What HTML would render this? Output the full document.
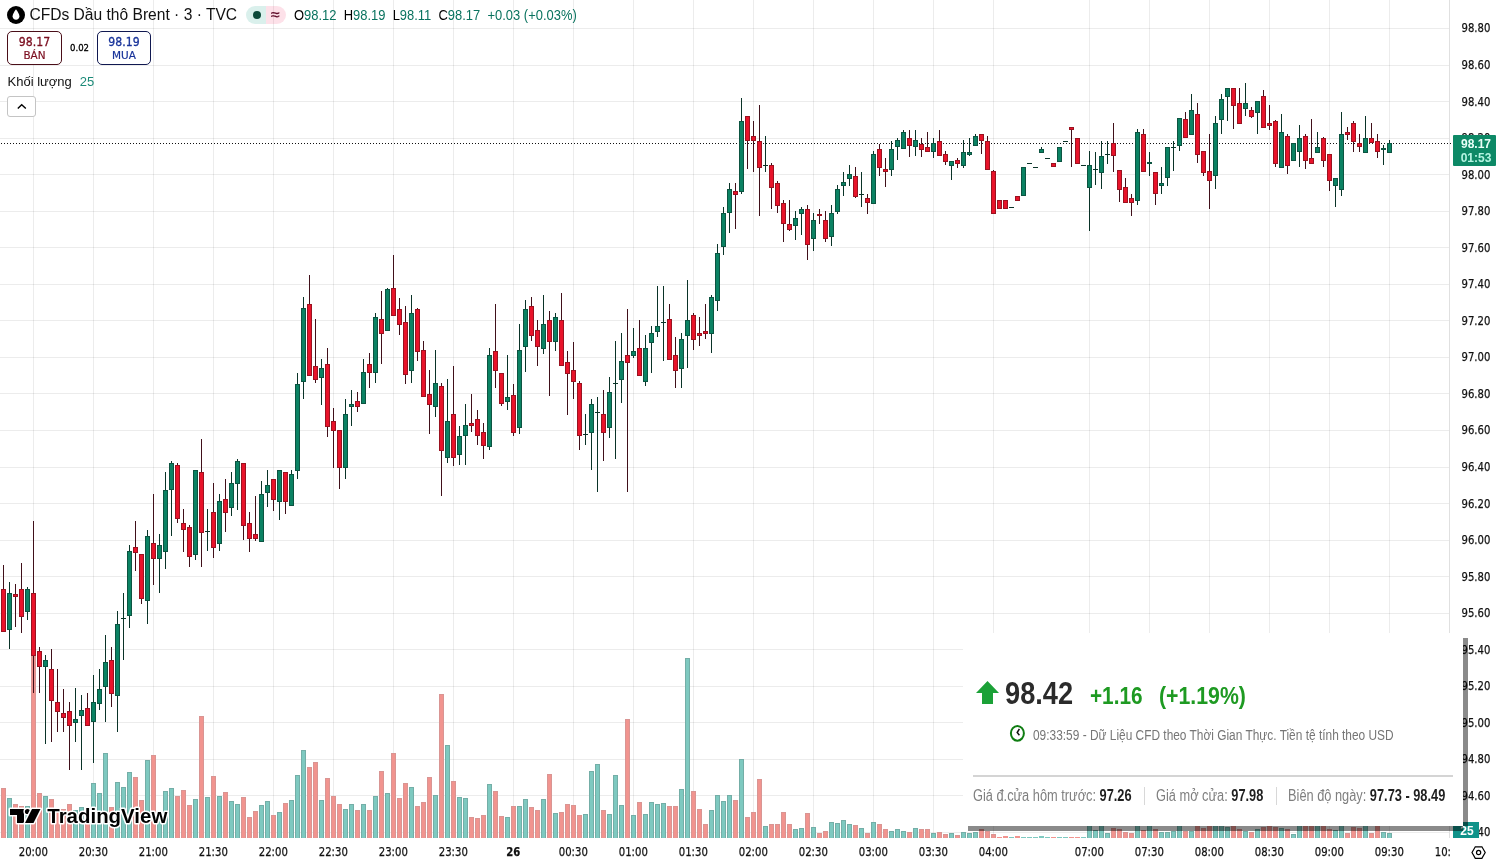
<!DOCTYPE html>
<html lang="vi"><head><meta charset="utf-8"><title>CFDs Dầu thô Brent</title>
<style>
html,body{margin:0;padding:0;width:1503px;height:866px;overflow:hidden;background:#fff;}
body{position:relative;font-family:"Liberation Sans",Arial,sans-serif;color:#131722;}
.a{position:absolute;white-space:nowrap;}
svg.chart{position:absolute;left:0;top:0;}
.pl{position:absolute;left:1440px;width:50.5px;text-align:right;font-size:12px;line-height:14px;height:14px;color:#111;font-family:"DejaVu Sans","Liberation Sans",sans-serif;}
.pl span{display:inline-block;transform:scaleX(0.84);transform-origin:100% 50%;-webkit-text-stroke:0.25px #111;}
.tl{position:absolute;top:845px;width:60px;text-align:center;font-size:12px;line-height:14px;color:#111;font-family:"DejaVu Sans","Liberation Sans",sans-serif;}
.tl span{display:inline-block;transform:scaleX(0.84);transform-origin:50% 50%;-webkit-text-stroke:0.25px #111;}
.tl.b{font-weight:bold;}
#tclip{position:absolute;left:0;top:0;width:1451px;height:866px;overflow:hidden;}
#title{left:29.4px;top:5px;font-size:15.6px;line-height:20px;color:#111;}
#pill{left:246px;top:6px;width:39.5px;height:18px;border-radius:9px;overflow:hidden;}
#pill .l{position:absolute;left:0;top:0;width:20px;height:18px;background:rgba(8,153,129,0.15);}
#pill .r{position:absolute;left:20px;top:0;width:20px;height:18px;background:rgba(242,54,110,0.15);}
#pill .dot{position:absolute;left:7px;top:5px;width:8px;height:8px;border-radius:50%;background:#0d4a3a;}
#pill .apx{position:absolute;left:21px;top:0;width:17px;height:18px;line-height:18px;text-align:center;color:#5e0b28;font-size:16px;font-weight:normal;-webkit-text-stroke:0.3px #5e0b28;}
#ohlc{left:294.3px;top:6.5px;font-size:14px;line-height:16px;color:#000;transform:scaleX(0.925);transform-origin:0 0;}
#ohlc .v{color:#0a735f;}
.box{position:absolute;top:31px;height:32px;border-radius:5px;background:#fff;text-align:center;}
.box .p{font-size:12px;line-height:13px;margin-top:3.8px;font-family:"DejaVu Sans","Liberation Sans",sans-serif;transform:scaleX(0.91);-webkit-text-stroke:0.3px currentColor;}
.box .s{font-size:11px;line-height:13px;margin-top:0.3px;font-family:"DejaVu Sans","Liberation Sans",sans-serif;transform:scaleX(0.95);-webkit-text-stroke:0.2px currentColor;}
#sell{left:7px;width:53px;border:1px solid #4a0e18;color:#7a0c1e;}
#buy{left:97px;width:52px;border:1px solid #101850;color:#18339a;}
#spread{left:69.5px;top:42px;font-size:9px;line-height:12px;font-family:"DejaVu Sans","Liberation Sans",sans-serif;color:#000;transform:scaleX(0.95);transform-origin:0 0;-webkit-text-stroke:0.3px #000;}
#vol{left:7.5px;top:74px;font-size:13px;line-height:16px;color:#111;}
#vol .v{color:#1b8a78;margin-left:8px;}
#coll{left:7px;top:96px;width:27px;height:19px;border:1px solid #c4c4c4;border-radius:3px;background:#fff;}
#ptag{left:1453px;top:135px;width:40px;padding-left:3px;height:30.5px;background:#0d8966;border-radius:1px;color:#e9fff8;text-align:center;font-weight:bold;font-size:12px;line-height:14px;}
#ptag .t2{color:#b5f5e2;}
#vtag{left:1453px;top:822px;width:24px;padding-left:2px;padding-top:1px;height:15px;background:#10938a;color:#fff;text-align:center;font-weight:bold;font-size:12px;line-height:17px;}
#ov{left:963px;top:633px;width:500px;height:193px;background:#fff;}
#shr{left:1463px;top:638px;width:5px;height:188px;background:rgba(0,0,0,0.46);}
#shb{left:968px;top:826px;width:495px;height:5px;background:rgba(0,0,0,0.46);}
.cond{display:inline-block;transform-origin:0 0;}
</style></head><body>
<svg class="chart" width="1503" height="866" viewBox="0 0 1503 866" shape-rendering="crispEdges">
<rect x="0" y="28" width="1449" height="1" fill="#000" fill-opacity="0.075"/>
<rect x="0" y="65" width="1449" height="1" fill="#000" fill-opacity="0.075"/>
<rect x="0" y="101" width="1449" height="1" fill="#000" fill-opacity="0.075"/>
<rect x="0" y="138" width="1449" height="1" fill="#000" fill-opacity="0.075"/>
<rect x="0" y="174" width="1449" height="1" fill="#000" fill-opacity="0.075"/>
<rect x="0" y="211" width="1449" height="1" fill="#000" fill-opacity="0.075"/>
<rect x="0" y="247" width="1449" height="1" fill="#000" fill-opacity="0.075"/>
<rect x="0" y="284" width="1449" height="1" fill="#000" fill-opacity="0.075"/>
<rect x="0" y="320" width="1449" height="1" fill="#000" fill-opacity="0.075"/>
<rect x="0" y="357" width="1449" height="1" fill="#000" fill-opacity="0.075"/>
<rect x="0" y="393" width="1449" height="1" fill="#000" fill-opacity="0.075"/>
<rect x="0" y="430" width="1449" height="1" fill="#000" fill-opacity="0.075"/>
<rect x="0" y="467" width="1449" height="1" fill="#000" fill-opacity="0.075"/>
<rect x="0" y="503" width="1449" height="1" fill="#000" fill-opacity="0.075"/>
<rect x="0" y="540" width="1449" height="1" fill="#000" fill-opacity="0.075"/>
<rect x="0" y="576" width="1449" height="1" fill="#000" fill-opacity="0.075"/>
<rect x="0" y="613" width="1449" height="1" fill="#000" fill-opacity="0.075"/>
<rect x="0" y="649" width="1449" height="1" fill="#000" fill-opacity="0.075"/>
<rect x="0" y="686" width="1449" height="1" fill="#000" fill-opacity="0.075"/>
<rect x="0" y="722" width="1449" height="1" fill="#000" fill-opacity="0.075"/>
<rect x="0" y="759" width="1449" height="1" fill="#000" fill-opacity="0.075"/>
<rect x="0" y="795" width="1449" height="1" fill="#000" fill-opacity="0.075"/>
<rect x="0" y="832" width="1449" height="1" fill="#000" fill-opacity="0.075"/>
<rect x="33" y="0" width="1" height="838" fill="#000" fill-opacity="0.075"/>
<rect x="93" y="0" width="1" height="838" fill="#000" fill-opacity="0.075"/>
<rect x="153" y="0" width="1" height="838" fill="#000" fill-opacity="0.075"/>
<rect x="213" y="0" width="1" height="838" fill="#000" fill-opacity="0.075"/>
<rect x="273" y="0" width="1" height="838" fill="#000" fill-opacity="0.075"/>
<rect x="333" y="0" width="1" height="838" fill="#000" fill-opacity="0.075"/>
<rect x="393" y="0" width="1" height="838" fill="#000" fill-opacity="0.075"/>
<rect x="453" y="0" width="1" height="838" fill="#000" fill-opacity="0.075"/>
<rect x="513" y="0" width="1" height="838" fill="#000" fill-opacity="0.075"/>
<rect x="573" y="0" width="1" height="838" fill="#000" fill-opacity="0.075"/>
<rect x="633" y="0" width="1" height="838" fill="#000" fill-opacity="0.075"/>
<rect x="693" y="0" width="1" height="838" fill="#000" fill-opacity="0.075"/>
<rect x="753" y="0" width="1" height="838" fill="#000" fill-opacity="0.075"/>
<rect x="813" y="0" width="1" height="838" fill="#000" fill-opacity="0.075"/>
<rect x="873" y="0" width="1" height="838" fill="#000" fill-opacity="0.075"/>
<rect x="933" y="0" width="1" height="838" fill="#000" fill-opacity="0.075"/>
<rect x="993" y="0" width="1" height="838" fill="#000" fill-opacity="0.075"/>
<rect x="1089" y="0" width="1" height="838" fill="#000" fill-opacity="0.075"/>
<rect x="1149" y="0" width="1" height="838" fill="#000" fill-opacity="0.075"/>
<rect x="1209" y="0" width="1" height="838" fill="#000" fill-opacity="0.075"/>
<rect x="1269" y="0" width="1" height="838" fill="#000" fill-opacity="0.075"/>
<rect x="1329" y="0" width="1" height="838" fill="#000" fill-opacity="0.075"/>
<rect x="1389" y="0" width="1" height="838" fill="#000" fill-opacity="0.075"/>
<rect x="1" y="788" width="5" height="50" fill="#d99593"/>
<rect x="2" y="789" width="3" height="49" fill="#f1948f"/>
<rect x="7" y="798" width="5" height="40" fill="#74aea7"/>
<rect x="8" y="799" width="3" height="39" fill="#7ec9c0"/>
<rect x="13" y="804" width="5" height="34" fill="#d99593"/>
<rect x="14" y="805" width="3" height="33" fill="#f1948f"/>
<rect x="19" y="806" width="5" height="32" fill="#d99593"/>
<rect x="20" y="807" width="3" height="31" fill="#f1948f"/>
<rect x="25" y="806" width="5" height="32" fill="#74aea7"/>
<rect x="26" y="807" width="3" height="31" fill="#7ec9c0"/>
<rect x="31" y="650" width="5" height="188" fill="#d99593"/>
<rect x="32" y="651" width="3" height="187" fill="#f1948f"/>
<rect x="37" y="793" width="5" height="45" fill="#d99593"/>
<rect x="38" y="794" width="3" height="44" fill="#f1948f"/>
<rect x="43" y="796" width="5" height="42" fill="#74aea7"/>
<rect x="44" y="797" width="3" height="41" fill="#7ec9c0"/>
<rect x="49" y="799" width="5" height="39" fill="#d99593"/>
<rect x="50" y="800" width="3" height="38" fill="#f1948f"/>
<rect x="55" y="810" width="5" height="28" fill="#d99593"/>
<rect x="56" y="811" width="3" height="27" fill="#f1948f"/>
<rect x="61" y="809" width="5" height="29" fill="#d99593"/>
<rect x="62" y="810" width="3" height="28" fill="#f1948f"/>
<rect x="67" y="804" width="5" height="34" fill="#d99593"/>
<rect x="68" y="805" width="3" height="33" fill="#f1948f"/>
<rect x="73" y="810" width="5" height="28" fill="#74aea7"/>
<rect x="74" y="811" width="3" height="27" fill="#7ec9c0"/>
<rect x="79" y="807" width="5" height="31" fill="#74aea7"/>
<rect x="80" y="808" width="3" height="30" fill="#7ec9c0"/>
<rect x="85" y="812" width="5" height="26" fill="#d99593"/>
<rect x="86" y="813" width="3" height="25" fill="#f1948f"/>
<rect x="91" y="783" width="5" height="55" fill="#74aea7"/>
<rect x="92" y="784" width="3" height="54" fill="#7ec9c0"/>
<rect x="97" y="793" width="5" height="45" fill="#74aea7"/>
<rect x="98" y="794" width="3" height="44" fill="#7ec9c0"/>
<rect x="103" y="753" width="5" height="85" fill="#74aea7"/>
<rect x="104" y="754" width="3" height="84" fill="#7ec9c0"/>
<rect x="109" y="807" width="5" height="31" fill="#d99593"/>
<rect x="110" y="808" width="3" height="30" fill="#f1948f"/>
<rect x="115" y="782" width="5" height="56" fill="#74aea7"/>
<rect x="116" y="783" width="3" height="55" fill="#7ec9c0"/>
<rect x="121" y="787" width="5" height="51" fill="#74aea7"/>
<rect x="122" y="788" width="3" height="50" fill="#7ec9c0"/>
<rect x="127" y="772" width="5" height="66" fill="#74aea7"/>
<rect x="128" y="773" width="3" height="65" fill="#7ec9c0"/>
<rect x="133" y="777" width="5" height="61" fill="#d99593"/>
<rect x="134" y="778" width="3" height="60" fill="#f1948f"/>
<rect x="139" y="800" width="5" height="38" fill="#d99593"/>
<rect x="140" y="801" width="3" height="37" fill="#f1948f"/>
<rect x="145" y="760" width="5" height="78" fill="#74aea7"/>
<rect x="146" y="761" width="3" height="77" fill="#7ec9c0"/>
<rect x="151" y="755" width="5" height="83" fill="#d99593"/>
<rect x="152" y="756" width="3" height="82" fill="#f1948f"/>
<rect x="157" y="812" width="5" height="26" fill="#74aea7"/>
<rect x="158" y="813" width="3" height="25" fill="#7ec9c0"/>
<rect x="163" y="791" width="5" height="47" fill="#74aea7"/>
<rect x="164" y="792" width="3" height="46" fill="#7ec9c0"/>
<rect x="169" y="788" width="5" height="50" fill="#74aea7"/>
<rect x="170" y="789" width="3" height="49" fill="#7ec9c0"/>
<rect x="175" y="796" width="5" height="42" fill="#d99593"/>
<rect x="176" y="797" width="3" height="41" fill="#f1948f"/>
<rect x="181" y="790" width="5" height="48" fill="#d99593"/>
<rect x="182" y="791" width="3" height="47" fill="#f1948f"/>
<rect x="187" y="805" width="5" height="33" fill="#d99593"/>
<rect x="188" y="806" width="3" height="32" fill="#f1948f"/>
<rect x="193" y="799" width="5" height="39" fill="#74aea7"/>
<rect x="194" y="800" width="3" height="38" fill="#7ec9c0"/>
<rect x="199" y="716" width="5" height="122" fill="#d99593"/>
<rect x="200" y="717" width="3" height="121" fill="#f1948f"/>
<rect x="205" y="797" width="5" height="41" fill="#74aea7"/>
<rect x="206" y="798" width="3" height="40" fill="#7ec9c0"/>
<rect x="211" y="776" width="5" height="62" fill="#d99593"/>
<rect x="212" y="777" width="3" height="61" fill="#f1948f"/>
<rect x="217" y="796" width="5" height="42" fill="#74aea7"/>
<rect x="218" y="797" width="3" height="41" fill="#7ec9c0"/>
<rect x="223" y="792" width="5" height="46" fill="#d99593"/>
<rect x="224" y="793" width="3" height="45" fill="#f1948f"/>
<rect x="229" y="801" width="5" height="37" fill="#74aea7"/>
<rect x="230" y="802" width="3" height="36" fill="#7ec9c0"/>
<rect x="235" y="804" width="5" height="34" fill="#74aea7"/>
<rect x="236" y="805" width="3" height="33" fill="#7ec9c0"/>
<rect x="241" y="797" width="5" height="41" fill="#d99593"/>
<rect x="242" y="798" width="3" height="40" fill="#f1948f"/>
<rect x="247" y="817" width="5" height="21" fill="#d99593"/>
<rect x="248" y="818" width="3" height="20" fill="#f1948f"/>
<rect x="253" y="811" width="5" height="27" fill="#d99593"/>
<rect x="254" y="812" width="3" height="26" fill="#f1948f"/>
<rect x="259" y="805" width="5" height="33" fill="#74aea7"/>
<rect x="260" y="806" width="3" height="32" fill="#7ec9c0"/>
<rect x="265" y="801" width="5" height="37" fill="#74aea7"/>
<rect x="266" y="802" width="3" height="36" fill="#7ec9c0"/>
<rect x="271" y="815" width="5" height="23" fill="#d99593"/>
<rect x="272" y="816" width="3" height="22" fill="#f1948f"/>
<rect x="277" y="812" width="5" height="26" fill="#74aea7"/>
<rect x="278" y="813" width="3" height="25" fill="#7ec9c0"/>
<rect x="283" y="803" width="5" height="35" fill="#d99593"/>
<rect x="284" y="804" width="3" height="34" fill="#f1948f"/>
<rect x="289" y="800" width="5" height="38" fill="#74aea7"/>
<rect x="290" y="801" width="3" height="37" fill="#7ec9c0"/>
<rect x="295" y="775" width="5" height="63" fill="#74aea7"/>
<rect x="296" y="776" width="3" height="62" fill="#7ec9c0"/>
<rect x="301" y="750" width="5" height="88" fill="#74aea7"/>
<rect x="302" y="751" width="3" height="87" fill="#7ec9c0"/>
<rect x="307" y="767" width="5" height="71" fill="#d99593"/>
<rect x="308" y="768" width="3" height="70" fill="#f1948f"/>
<rect x="313" y="762" width="5" height="76" fill="#d99593"/>
<rect x="314" y="763" width="3" height="75" fill="#f1948f"/>
<rect x="319" y="800" width="5" height="38" fill="#74aea7"/>
<rect x="320" y="801" width="3" height="37" fill="#7ec9c0"/>
<rect x="325" y="778" width="5" height="60" fill="#d99593"/>
<rect x="326" y="779" width="3" height="59" fill="#f1948f"/>
<rect x="331" y="796" width="5" height="42" fill="#d99593"/>
<rect x="332" y="797" width="3" height="41" fill="#f1948f"/>
<rect x="337" y="804" width="5" height="34" fill="#d99593"/>
<rect x="338" y="805" width="3" height="33" fill="#f1948f"/>
<rect x="343" y="809" width="5" height="29" fill="#74aea7"/>
<rect x="344" y="810" width="3" height="28" fill="#7ec9c0"/>
<rect x="349" y="804" width="5" height="34" fill="#74aea7"/>
<rect x="350" y="805" width="3" height="33" fill="#7ec9c0"/>
<rect x="355" y="810" width="5" height="28" fill="#d99593"/>
<rect x="356" y="811" width="3" height="27" fill="#f1948f"/>
<rect x="361" y="804" width="5" height="34" fill="#74aea7"/>
<rect x="362" y="805" width="3" height="33" fill="#7ec9c0"/>
<rect x="367" y="810" width="5" height="28" fill="#d99593"/>
<rect x="368" y="811" width="3" height="27" fill="#f1948f"/>
<rect x="373" y="796" width="5" height="42" fill="#74aea7"/>
<rect x="374" y="797" width="3" height="41" fill="#7ec9c0"/>
<rect x="379" y="771" width="5" height="67" fill="#d99593"/>
<rect x="380" y="772" width="3" height="66" fill="#f1948f"/>
<rect x="385" y="793" width="5" height="45" fill="#74aea7"/>
<rect x="386" y="794" width="3" height="44" fill="#7ec9c0"/>
<rect x="391" y="753" width="5" height="85" fill="#d99593"/>
<rect x="392" y="754" width="3" height="84" fill="#f1948f"/>
<rect x="397" y="798" width="5" height="40" fill="#d99593"/>
<rect x="398" y="799" width="3" height="39" fill="#f1948f"/>
<rect x="403" y="783" width="5" height="55" fill="#d99593"/>
<rect x="404" y="784" width="3" height="54" fill="#f1948f"/>
<rect x="409" y="787" width="5" height="51" fill="#74aea7"/>
<rect x="410" y="788" width="3" height="50" fill="#7ec9c0"/>
<rect x="415" y="806" width="5" height="32" fill="#d99593"/>
<rect x="416" y="807" width="3" height="31" fill="#f1948f"/>
<rect x="421" y="802" width="5" height="36" fill="#d99593"/>
<rect x="422" y="803" width="3" height="35" fill="#f1948f"/>
<rect x="427" y="777" width="5" height="61" fill="#d99593"/>
<rect x="428" y="778" width="3" height="60" fill="#f1948f"/>
<rect x="433" y="795" width="5" height="43" fill="#74aea7"/>
<rect x="434" y="796" width="3" height="42" fill="#7ec9c0"/>
<rect x="439" y="694" width="5" height="144" fill="#d99593"/>
<rect x="440" y="695" width="3" height="143" fill="#f1948f"/>
<rect x="445" y="745" width="5" height="93" fill="#74aea7"/>
<rect x="446" y="746" width="3" height="92" fill="#7ec9c0"/>
<rect x="451" y="781" width="5" height="57" fill="#d99593"/>
<rect x="452" y="782" width="3" height="56" fill="#f1948f"/>
<rect x="457" y="797" width="5" height="41" fill="#74aea7"/>
<rect x="458" y="798" width="3" height="40" fill="#7ec9c0"/>
<rect x="463" y="798" width="5" height="40" fill="#74aea7"/>
<rect x="464" y="799" width="3" height="39" fill="#7ec9c0"/>
<rect x="469" y="817" width="5" height="21" fill="#d99593"/>
<rect x="470" y="818" width="3" height="20" fill="#f1948f"/>
<rect x="475" y="818" width="5" height="20" fill="#d99593"/>
<rect x="476" y="819" width="3" height="19" fill="#f1948f"/>
<rect x="481" y="815" width="5" height="23" fill="#d99593"/>
<rect x="482" y="816" width="3" height="22" fill="#f1948f"/>
<rect x="487" y="784" width="5" height="54" fill="#74aea7"/>
<rect x="488" y="785" width="3" height="53" fill="#7ec9c0"/>
<rect x="493" y="791" width="5" height="47" fill="#d99593"/>
<rect x="494" y="792" width="3" height="46" fill="#f1948f"/>
<rect x="499" y="816" width="5" height="22" fill="#d99593"/>
<rect x="500" y="817" width="3" height="21" fill="#f1948f"/>
<rect x="505" y="817" width="5" height="21" fill="#74aea7"/>
<rect x="506" y="818" width="3" height="20" fill="#7ec9c0"/>
<rect x="511" y="806" width="5" height="32" fill="#d99593"/>
<rect x="512" y="807" width="3" height="31" fill="#f1948f"/>
<rect x="517" y="806" width="5" height="32" fill="#74aea7"/>
<rect x="518" y="807" width="3" height="31" fill="#7ec9c0"/>
<rect x="523" y="799" width="5" height="39" fill="#74aea7"/>
<rect x="524" y="800" width="3" height="38" fill="#7ec9c0"/>
<rect x="529" y="807" width="5" height="31" fill="#d99593"/>
<rect x="530" y="808" width="3" height="30" fill="#f1948f"/>
<rect x="535" y="810" width="5" height="28" fill="#d99593"/>
<rect x="536" y="811" width="3" height="27" fill="#f1948f"/>
<rect x="541" y="799" width="5" height="39" fill="#74aea7"/>
<rect x="542" y="800" width="3" height="38" fill="#7ec9c0"/>
<rect x="547" y="774" width="5" height="64" fill="#d99593"/>
<rect x="548" y="775" width="3" height="63" fill="#f1948f"/>
<rect x="553" y="813" width="5" height="25" fill="#74aea7"/>
<rect x="554" y="814" width="3" height="24" fill="#7ec9c0"/>
<rect x="559" y="812" width="5" height="26" fill="#d99593"/>
<rect x="560" y="813" width="3" height="25" fill="#f1948f"/>
<rect x="565" y="804" width="5" height="34" fill="#d99593"/>
<rect x="566" y="805" width="3" height="33" fill="#f1948f"/>
<rect x="571" y="805" width="5" height="33" fill="#d99593"/>
<rect x="572" y="806" width="3" height="32" fill="#f1948f"/>
<rect x="577" y="815" width="5" height="23" fill="#d99593"/>
<rect x="578" y="816" width="3" height="22" fill="#f1948f"/>
<rect x="583" y="814" width="5" height="24" fill="#74aea7"/>
<rect x="584" y="815" width="3" height="23" fill="#7ec9c0"/>
<rect x="589" y="771" width="5" height="67" fill="#74aea7"/>
<rect x="590" y="772" width="3" height="66" fill="#7ec9c0"/>
<rect x="595" y="764" width="5" height="74" fill="#74aea7"/>
<rect x="596" y="765" width="3" height="73" fill="#7ec9c0"/>
<rect x="601" y="810" width="5" height="28" fill="#d99593"/>
<rect x="602" y="811" width="3" height="27" fill="#f1948f"/>
<rect x="607" y="814" width="5" height="24" fill="#74aea7"/>
<rect x="608" y="815" width="3" height="23" fill="#7ec9c0"/>
<rect x="613" y="775" width="5" height="63" fill="#74aea7"/>
<rect x="614" y="776" width="3" height="62" fill="#7ec9c0"/>
<rect x="619" y="805" width="5" height="33" fill="#74aea7"/>
<rect x="620" y="806" width="3" height="32" fill="#7ec9c0"/>
<rect x="625" y="719" width="5" height="119" fill="#d99593"/>
<rect x="626" y="720" width="3" height="118" fill="#f1948f"/>
<rect x="631" y="815" width="5" height="23" fill="#74aea7"/>
<rect x="632" y="816" width="3" height="22" fill="#7ec9c0"/>
<rect x="637" y="802" width="5" height="36" fill="#d99593"/>
<rect x="638" y="803" width="3" height="35" fill="#f1948f"/>
<rect x="643" y="814" width="5" height="24" fill="#74aea7"/>
<rect x="644" y="815" width="3" height="23" fill="#7ec9c0"/>
<rect x="649" y="802" width="5" height="36" fill="#74aea7"/>
<rect x="650" y="803" width="3" height="35" fill="#7ec9c0"/>
<rect x="655" y="804" width="5" height="34" fill="#74aea7"/>
<rect x="656" y="805" width="3" height="33" fill="#7ec9c0"/>
<rect x="661" y="803" width="5" height="35" fill="#74aea7"/>
<rect x="662" y="804" width="3" height="34" fill="#7ec9c0"/>
<rect x="667" y="806" width="5" height="32" fill="#d99593"/>
<rect x="668" y="807" width="3" height="31" fill="#f1948f"/>
<rect x="673" y="806" width="5" height="32" fill="#d99593"/>
<rect x="674" y="807" width="3" height="31" fill="#f1948f"/>
<rect x="679" y="789" width="5" height="49" fill="#74aea7"/>
<rect x="680" y="790" width="3" height="48" fill="#7ec9c0"/>
<rect x="685" y="658" width="5" height="180" fill="#74aea7"/>
<rect x="686" y="659" width="3" height="179" fill="#7ec9c0"/>
<rect x="691" y="791" width="5" height="47" fill="#d99593"/>
<rect x="692" y="792" width="3" height="46" fill="#f1948f"/>
<rect x="697" y="809" width="5" height="29" fill="#d99593"/>
<rect x="698" y="810" width="3" height="28" fill="#f1948f"/>
<rect x="703" y="824" width="5" height="14" fill="#d99593"/>
<rect x="704" y="825" width="3" height="13" fill="#f1948f"/>
<rect x="709" y="810" width="5" height="28" fill="#74aea7"/>
<rect x="710" y="811" width="3" height="27" fill="#7ec9c0"/>
<rect x="715" y="795" width="5" height="43" fill="#74aea7"/>
<rect x="716" y="796" width="3" height="42" fill="#7ec9c0"/>
<rect x="721" y="801" width="5" height="37" fill="#74aea7"/>
<rect x="722" y="802" width="3" height="36" fill="#7ec9c0"/>
<rect x="727" y="795" width="5" height="43" fill="#74aea7"/>
<rect x="728" y="796" width="3" height="42" fill="#7ec9c0"/>
<rect x="733" y="800" width="5" height="38" fill="#d99593"/>
<rect x="734" y="801" width="3" height="37" fill="#f1948f"/>
<rect x="739" y="759" width="5" height="79" fill="#74aea7"/>
<rect x="740" y="760" width="3" height="78" fill="#7ec9c0"/>
<rect x="745" y="817" width="5" height="21" fill="#d99593"/>
<rect x="746" y="818" width="3" height="20" fill="#f1948f"/>
<rect x="751" y="812" width="5" height="26" fill="#d99593"/>
<rect x="752" y="813" width="3" height="25" fill="#f1948f"/>
<rect x="757" y="779" width="5" height="59" fill="#d99593"/>
<rect x="758" y="780" width="3" height="58" fill="#f1948f"/>
<rect x="763" y="826" width="5" height="12" fill="#74aea7"/>
<rect x="764" y="827" width="3" height="11" fill="#7ec9c0"/>
<rect x="769" y="824" width="5" height="14" fill="#d99593"/>
<rect x="770" y="825" width="3" height="13" fill="#f1948f"/>
<rect x="775" y="824" width="5" height="14" fill="#d99593"/>
<rect x="776" y="825" width="3" height="13" fill="#f1948f"/>
<rect x="781" y="812" width="5" height="26" fill="#d99593"/>
<rect x="782" y="813" width="3" height="25" fill="#f1948f"/>
<rect x="787" y="824" width="5" height="14" fill="#d99593"/>
<rect x="788" y="825" width="3" height="13" fill="#f1948f"/>
<rect x="793" y="829" width="5" height="9" fill="#74aea7"/>
<rect x="794" y="830" width="3" height="8" fill="#7ec9c0"/>
<rect x="799" y="828" width="5" height="10" fill="#74aea7"/>
<rect x="800" y="829" width="3" height="9" fill="#7ec9c0"/>
<rect x="805" y="813" width="5" height="25" fill="#d99593"/>
<rect x="806" y="814" width="3" height="24" fill="#f1948f"/>
<rect x="811" y="827" width="5" height="11" fill="#74aea7"/>
<rect x="812" y="828" width="3" height="10" fill="#7ec9c0"/>
<rect x="817" y="833" width="5" height="5" fill="#d99593"/>
<rect x="818" y="834" width="3" height="4" fill="#f1948f"/>
<rect x="823" y="831" width="5" height="7" fill="#d99593"/>
<rect x="824" y="832" width="3" height="6" fill="#f1948f"/>
<rect x="829" y="822" width="5" height="16" fill="#74aea7"/>
<rect x="830" y="823" width="3" height="15" fill="#7ec9c0"/>
<rect x="835" y="823" width="5" height="15" fill="#74aea7"/>
<rect x="836" y="824" width="3" height="14" fill="#7ec9c0"/>
<rect x="841" y="820" width="5" height="18" fill="#74aea7"/>
<rect x="842" y="821" width="3" height="17" fill="#7ec9c0"/>
<rect x="847" y="824" width="5" height="14" fill="#74aea7"/>
<rect x="848" y="825" width="3" height="13" fill="#7ec9c0"/>
<rect x="853" y="825" width="5" height="13" fill="#d99593"/>
<rect x="854" y="826" width="3" height="12" fill="#f1948f"/>
<rect x="859" y="828" width="5" height="10" fill="#74aea7"/>
<rect x="860" y="829" width="3" height="9" fill="#7ec9c0"/>
<rect x="865" y="833" width="5" height="5" fill="#d99593"/>
<rect x="866" y="834" width="3" height="4" fill="#f1948f"/>
<rect x="871" y="822" width="5" height="16" fill="#74aea7"/>
<rect x="872" y="823" width="3" height="15" fill="#7ec9c0"/>
<rect x="877" y="824" width="5" height="14" fill="#d99593"/>
<rect x="878" y="825" width="3" height="13" fill="#f1948f"/>
<rect x="883" y="829" width="5" height="9" fill="#d99593"/>
<rect x="884" y="830" width="3" height="8" fill="#f1948f"/>
<rect x="889" y="831" width="5" height="7" fill="#74aea7"/>
<rect x="890" y="832" width="3" height="6" fill="#7ec9c0"/>
<rect x="895" y="829" width="5" height="9" fill="#74aea7"/>
<rect x="896" y="830" width="3" height="8" fill="#7ec9c0"/>
<rect x="901" y="831" width="5" height="7" fill="#74aea7"/>
<rect x="902" y="832" width="3" height="6" fill="#7ec9c0"/>
<rect x="907" y="832" width="5" height="6" fill="#d99593"/>
<rect x="908" y="833" width="3" height="5" fill="#f1948f"/>
<rect x="913" y="828" width="5" height="10" fill="#74aea7"/>
<rect x="914" y="829" width="3" height="9" fill="#7ec9c0"/>
<rect x="919" y="829" width="5" height="9" fill="#d99593"/>
<rect x="920" y="830" width="3" height="8" fill="#f1948f"/>
<rect x="925" y="829" width="5" height="9" fill="#d99593"/>
<rect x="926" y="830" width="3" height="8" fill="#f1948f"/>
<rect x="931" y="833" width="5" height="5" fill="#74aea7"/>
<rect x="932" y="834" width="3" height="4" fill="#7ec9c0"/>
<rect x="937" y="832" width="5" height="6" fill="#d99593"/>
<rect x="938" y="833" width="3" height="5" fill="#f1948f"/>
<rect x="943" y="834" width="5" height="4" fill="#d99593"/>
<rect x="944" y="835" width="3" height="3" fill="#f1948f"/>
<rect x="949" y="833" width="5" height="5" fill="#74aea7"/>
<rect x="950" y="834" width="3" height="4" fill="#7ec9c0"/>
<rect x="955" y="835" width="5" height="3" fill="#d99593"/>
<rect x="956" y="836" width="3" height="2" fill="#f1948f"/>
<rect x="961" y="832" width="5" height="6" fill="#74aea7"/>
<rect x="962" y="833" width="3" height="5" fill="#7ec9c0"/>
<rect x="967" y="833" width="5" height="5" fill="#74aea7"/>
<rect x="968" y="834" width="3" height="4" fill="#7ec9c0"/>
<rect x="973" y="832" width="5" height="6" fill="#74aea7"/>
<rect x="974" y="833" width="3" height="5" fill="#7ec9c0"/>
<rect x="979" y="829" width="5" height="9" fill="#d99593"/>
<rect x="980" y="830" width="3" height="8" fill="#f1948f"/>
<rect x="985" y="831" width="5" height="7" fill="#d99593"/>
<rect x="986" y="832" width="3" height="6" fill="#f1948f"/>
<rect x="991" y="834" width="5" height="4" fill="#d99593"/>
<rect x="992" y="835" width="3" height="3" fill="#f1948f"/>
<rect x="997" y="837" width="5" height="1" fill="#f1948f"/>
<rect x="1003" y="836" width="5" height="2" fill="#f1948f"/>
<rect x="1009" y="837" width="5" height="1" fill="#7ec9c0"/>
<rect x="1015" y="836" width="5" height="2" fill="#f1948f"/>
<rect x="1021" y="837" width="5" height="1" fill="#7ec9c0"/>
<rect x="1027" y="837" width="5" height="1" fill="#7ec9c0"/>
<rect x="1033" y="837" width="5" height="1" fill="#7ec9c0"/>
<rect x="1039" y="836" width="5" height="2" fill="#7ec9c0"/>
<rect x="1045" y="837" width="5" height="1" fill="#7ec9c0"/>
<rect x="1051" y="837" width="5" height="1" fill="#f1948f"/>
<rect x="1057" y="837" width="5" height="1" fill="#7ec9c0"/>
<rect x="1063" y="837" width="5" height="1" fill="#7ec9c0"/>
<rect x="1069" y="837" width="5" height="1" fill="#f1948f"/>
<rect x="1075" y="837" width="5" height="1" fill="#f1948f"/>
<rect x="1081" y="837" width="5" height="1" fill="#7ec9c0"/>
<rect x="1087" y="815" width="5" height="23" fill="#74aea7"/>
<rect x="1088" y="816" width="3" height="22" fill="#7ec9c0"/>
<rect x="1093" y="830" width="5" height="8" fill="#74aea7"/>
<rect x="1094" y="831" width="3" height="7" fill="#7ec9c0"/>
<rect x="1099" y="815" width="5" height="23" fill="#74aea7"/>
<rect x="1100" y="816" width="3" height="22" fill="#7ec9c0"/>
<rect x="1105" y="833" width="5" height="5" fill="#74aea7"/>
<rect x="1106" y="834" width="3" height="4" fill="#7ec9c0"/>
<rect x="1111" y="828" width="5" height="10" fill="#d99593"/>
<rect x="1112" y="829" width="3" height="9" fill="#f1948f"/>
<rect x="1117" y="829" width="5" height="9" fill="#d99593"/>
<rect x="1118" y="830" width="3" height="8" fill="#f1948f"/>
<rect x="1123" y="832" width="5" height="6" fill="#d99593"/>
<rect x="1124" y="833" width="3" height="5" fill="#f1948f"/>
<rect x="1129" y="833" width="5" height="5" fill="#d99593"/>
<rect x="1130" y="834" width="3" height="4" fill="#f1948f"/>
<rect x="1135" y="815" width="5" height="23" fill="#74aea7"/>
<rect x="1136" y="816" width="3" height="22" fill="#7ec9c0"/>
<rect x="1141" y="830" width="5" height="8" fill="#d99593"/>
<rect x="1142" y="831" width="3" height="7" fill="#f1948f"/>
<rect x="1147" y="815" width="5" height="23" fill="#74aea7"/>
<rect x="1148" y="816" width="3" height="22" fill="#7ec9c0"/>
<rect x="1153" y="829" width="5" height="9" fill="#d99593"/>
<rect x="1154" y="830" width="3" height="8" fill="#f1948f"/>
<rect x="1159" y="832" width="5" height="6" fill="#74aea7"/>
<rect x="1160" y="833" width="3" height="5" fill="#7ec9c0"/>
<rect x="1165" y="832" width="5" height="6" fill="#74aea7"/>
<rect x="1166" y="833" width="3" height="5" fill="#7ec9c0"/>
<rect x="1171" y="831" width="5" height="7" fill="#74aea7"/>
<rect x="1172" y="832" width="3" height="6" fill="#7ec9c0"/>
<rect x="1177" y="815" width="5" height="23" fill="#74aea7"/>
<rect x="1178" y="816" width="3" height="22" fill="#7ec9c0"/>
<rect x="1183" y="831" width="5" height="7" fill="#d99593"/>
<rect x="1184" y="832" width="3" height="6" fill="#f1948f"/>
<rect x="1189" y="831" width="5" height="7" fill="#74aea7"/>
<rect x="1190" y="832" width="3" height="6" fill="#7ec9c0"/>
<rect x="1195" y="815" width="5" height="23" fill="#d99593"/>
<rect x="1196" y="816" width="3" height="22" fill="#f1948f"/>
<rect x="1201" y="828" width="5" height="10" fill="#d99593"/>
<rect x="1202" y="829" width="3" height="9" fill="#f1948f"/>
<rect x="1207" y="815" width="5" height="23" fill="#d99593"/>
<rect x="1208" y="816" width="3" height="22" fill="#f1948f"/>
<rect x="1213" y="815" width="5" height="23" fill="#74aea7"/>
<rect x="1214" y="816" width="3" height="22" fill="#7ec9c0"/>
<rect x="1219" y="815" width="5" height="23" fill="#74aea7"/>
<rect x="1220" y="816" width="3" height="22" fill="#7ec9c0"/>
<rect x="1225" y="827" width="5" height="11" fill="#74aea7"/>
<rect x="1226" y="828" width="3" height="10" fill="#7ec9c0"/>
<rect x="1231" y="815" width="5" height="23" fill="#d99593"/>
<rect x="1232" y="816" width="3" height="22" fill="#f1948f"/>
<rect x="1237" y="829" width="5" height="9" fill="#d99593"/>
<rect x="1238" y="830" width="3" height="8" fill="#f1948f"/>
<rect x="1243" y="831" width="5" height="7" fill="#74aea7"/>
<rect x="1244" y="832" width="3" height="6" fill="#7ec9c0"/>
<rect x="1249" y="832" width="5" height="6" fill="#d99593"/>
<rect x="1250" y="833" width="3" height="5" fill="#f1948f"/>
<rect x="1255" y="829" width="5" height="9" fill="#74aea7"/>
<rect x="1256" y="830" width="3" height="8" fill="#7ec9c0"/>
<rect x="1261" y="827" width="5" height="11" fill="#d99593"/>
<rect x="1262" y="828" width="3" height="10" fill="#f1948f"/>
<rect x="1267" y="815" width="5" height="23" fill="#d99593"/>
<rect x="1268" y="816" width="3" height="22" fill="#f1948f"/>
<rect x="1273" y="827" width="5" height="11" fill="#d99593"/>
<rect x="1274" y="828" width="3" height="10" fill="#f1948f"/>
<rect x="1279" y="828" width="5" height="10" fill="#74aea7"/>
<rect x="1280" y="829" width="3" height="9" fill="#7ec9c0"/>
<rect x="1285" y="829" width="5" height="9" fill="#d99593"/>
<rect x="1286" y="830" width="3" height="8" fill="#f1948f"/>
<rect x="1291" y="834" width="5" height="4" fill="#74aea7"/>
<rect x="1292" y="835" width="3" height="3" fill="#7ec9c0"/>
<rect x="1297" y="815" width="5" height="23" fill="#74aea7"/>
<rect x="1298" y="816" width="3" height="22" fill="#7ec9c0"/>
<rect x="1303" y="815" width="5" height="23" fill="#d99593"/>
<rect x="1304" y="816" width="3" height="22" fill="#f1948f"/>
<rect x="1309" y="815" width="5" height="23" fill="#d99593"/>
<rect x="1310" y="816" width="3" height="22" fill="#f1948f"/>
<rect x="1315" y="815" width="5" height="23" fill="#74aea7"/>
<rect x="1316" y="816" width="3" height="22" fill="#7ec9c0"/>
<rect x="1321" y="815" width="5" height="23" fill="#d99593"/>
<rect x="1322" y="816" width="3" height="22" fill="#f1948f"/>
<rect x="1327" y="829" width="5" height="9" fill="#d99593"/>
<rect x="1328" y="830" width="3" height="8" fill="#f1948f"/>
<rect x="1333" y="830" width="5" height="8" fill="#74aea7"/>
<rect x="1334" y="831" width="3" height="7" fill="#7ec9c0"/>
<rect x="1339" y="815" width="5" height="23" fill="#74aea7"/>
<rect x="1340" y="816" width="3" height="22" fill="#7ec9c0"/>
<rect x="1345" y="833" width="5" height="5" fill="#d99593"/>
<rect x="1346" y="834" width="3" height="4" fill="#f1948f"/>
<rect x="1351" y="827" width="5" height="11" fill="#d99593"/>
<rect x="1352" y="828" width="3" height="10" fill="#f1948f"/>
<rect x="1357" y="828" width="5" height="10" fill="#d99593"/>
<rect x="1358" y="829" width="3" height="9" fill="#f1948f"/>
<rect x="1363" y="815" width="5" height="23" fill="#74aea7"/>
<rect x="1364" y="816" width="3" height="22" fill="#7ec9c0"/>
<rect x="1369" y="833" width="5" height="5" fill="#d99593"/>
<rect x="1370" y="834" width="3" height="4" fill="#f1948f"/>
<rect x="1375" y="815" width="5" height="23" fill="#d99593"/>
<rect x="1376" y="816" width="3" height="22" fill="#f1948f"/>
<rect x="1381" y="832" width="5" height="6" fill="#74aea7"/>
<rect x="1382" y="833" width="3" height="5" fill="#7ec9c0"/>
<rect x="1387" y="833" width="5" height="5" fill="#74aea7"/>
<rect x="1388" y="834" width="3" height="4" fill="#7ec9c0"/>
<line x1="1" y1="143.5" x2="1451" y2="143.5" stroke="#111" stroke-width="1" stroke-dasharray="1 2"/>
<rect x="3" y="565" width="1" height="67" fill="#40101a"/>
<rect x="1" y="589" width="5" height="43" fill="#9a1220"/>
<rect x="2" y="590" width="3" height="41" fill="#e8132a"/>
<rect x="9" y="582" width="1" height="67" fill="#0a3328"/>
<rect x="7" y="593" width="5" height="37" fill="#0c5441"/>
<rect x="8" y="594" width="3" height="35" fill="#0b8263"/>
<rect x="15" y="584" width="1" height="43" fill="#40101a"/>
<rect x="13" y="594" width="5" height="3" fill="#9a1220"/>
<rect x="14" y="595" width="3" height="1" fill="#e8132a"/>
<rect x="21" y="563" width="1" height="70" fill="#40101a"/>
<rect x="19" y="589" width="5" height="28" fill="#9a1220"/>
<rect x="20" y="590" width="3" height="26" fill="#e8132a"/>
<rect x="27" y="587" width="1" height="33" fill="#0a3328"/>
<rect x="25" y="589" width="5" height="23" fill="#0c5441"/>
<rect x="26" y="590" width="3" height="21" fill="#0b8263"/>
<rect x="33" y="521" width="1" height="172" fill="#40101a"/>
<rect x="31" y="593" width="5" height="63" fill="#9a1220"/>
<rect x="32" y="594" width="3" height="61" fill="#e8132a"/>
<rect x="39" y="647" width="1" height="46" fill="#40101a"/>
<rect x="37" y="651" width="5" height="16" fill="#9a1220"/>
<rect x="38" y="652" width="3" height="14" fill="#e8132a"/>
<rect x="45" y="655" width="1" height="89" fill="#0a3328"/>
<rect x="43" y="660" width="5" height="7" fill="#0c5441"/>
<rect x="44" y="661" width="3" height="5" fill="#0b8263"/>
<rect x="51" y="649" width="1" height="93" fill="#40101a"/>
<rect x="49" y="669" width="5" height="32" fill="#9a1220"/>
<rect x="50" y="670" width="3" height="30" fill="#e8132a"/>
<rect x="57" y="669" width="1" height="63" fill="#40101a"/>
<rect x="55" y="702" width="5" height="10" fill="#9a1220"/>
<rect x="56" y="703" width="3" height="8" fill="#e8132a"/>
<rect x="63" y="689" width="1" height="43" fill="#40101a"/>
<rect x="61" y="713" width="5" height="5" fill="#9a1220"/>
<rect x="62" y="714" width="3" height="3" fill="#e8132a"/>
<rect x="69" y="702" width="1" height="68" fill="#40101a"/>
<rect x="67" y="711" width="5" height="15" fill="#9a1220"/>
<rect x="68" y="712" width="3" height="13" fill="#e8132a"/>
<rect x="75" y="688" width="1" height="54" fill="#0a3328"/>
<rect x="73" y="719" width="5" height="4" fill="#0c5441"/>
<rect x="74" y="720" width="3" height="2" fill="#0b8263"/>
<rect x="81" y="695" width="1" height="75" fill="#0a3328"/>
<rect x="79" y="710" width="5" height="6" fill="#0c5441"/>
<rect x="80" y="711" width="3" height="4" fill="#0b8263"/>
<rect x="87" y="693" width="1" height="33" fill="#40101a"/>
<rect x="85" y="708" width="5" height="18" fill="#9a1220"/>
<rect x="86" y="709" width="3" height="16" fill="#e8132a"/>
<rect x="93" y="675" width="1" height="88" fill="#0a3328"/>
<rect x="91" y="702" width="5" height="20" fill="#0c5441"/>
<rect x="92" y="703" width="3" height="18" fill="#0b8263"/>
<rect x="99" y="669" width="1" height="41" fill="#0a3328"/>
<rect x="97" y="689" width="5" height="15" fill="#0c5441"/>
<rect x="98" y="690" width="3" height="13" fill="#0b8263"/>
<rect x="105" y="635" width="1" height="87" fill="#0a3328"/>
<rect x="103" y="662" width="5" height="25" fill="#0c5441"/>
<rect x="104" y="663" width="3" height="23" fill="#0b8263"/>
<rect x="111" y="647" width="1" height="60" fill="#40101a"/>
<rect x="109" y="660" width="5" height="34" fill="#9a1220"/>
<rect x="110" y="661" width="3" height="32" fill="#e8132a"/>
<rect x="117" y="611" width="1" height="121" fill="#0a3328"/>
<rect x="115" y="624" width="5" height="72" fill="#0c5441"/>
<rect x="116" y="625" width="3" height="70" fill="#0b8263"/>
<rect x="123" y="593" width="1" height="67" fill="#0a3328"/>
<rect x="121" y="618" width="5" height="1" fill="#0a3328"/>
<rect x="129" y="545" width="1" height="83" fill="#0a3328"/>
<rect x="127" y="551" width="5" height="65" fill="#0c5441"/>
<rect x="128" y="552" width="3" height="63" fill="#0b8263"/>
<rect x="135" y="521" width="1" height="50" fill="#40101a"/>
<rect x="133" y="547" width="5" height="6" fill="#9a1220"/>
<rect x="134" y="548" width="3" height="4" fill="#e8132a"/>
<rect x="141" y="554" width="1" height="50" fill="#40101a"/>
<rect x="139" y="554" width="5" height="45" fill="#9a1220"/>
<rect x="140" y="555" width="3" height="43" fill="#e8132a"/>
<rect x="147" y="530" width="1" height="94" fill="#0a3328"/>
<rect x="145" y="536" width="5" height="65" fill="#0c5441"/>
<rect x="146" y="537" width="3" height="63" fill="#0b8263"/>
<rect x="153" y="494" width="1" height="91" fill="#40101a"/>
<rect x="151" y="543" width="5" height="16" fill="#9a1220"/>
<rect x="152" y="544" width="3" height="14" fill="#e8132a"/>
<rect x="159" y="534" width="1" height="59" fill="#0a3328"/>
<rect x="157" y="545" width="5" height="14" fill="#0c5441"/>
<rect x="158" y="546" width="3" height="12" fill="#0b8263"/>
<rect x="165" y="472" width="1" height="97" fill="#0a3328"/>
<rect x="163" y="490" width="5" height="62" fill="#0c5441"/>
<rect x="164" y="491" width="3" height="60" fill="#0b8263"/>
<rect x="171" y="461" width="1" height="75" fill="#0a3328"/>
<rect x="169" y="463" width="5" height="27" fill="#0c5441"/>
<rect x="170" y="464" width="3" height="25" fill="#0b8263"/>
<rect x="177" y="463" width="1" height="60" fill="#40101a"/>
<rect x="175" y="465" width="5" height="54" fill="#9a1220"/>
<rect x="176" y="466" width="3" height="52" fill="#e8132a"/>
<rect x="183" y="509" width="1" height="43" fill="#40101a"/>
<rect x="181" y="523" width="5" height="7" fill="#9a1220"/>
<rect x="182" y="524" width="3" height="5" fill="#e8132a"/>
<rect x="189" y="525" width="1" height="42" fill="#40101a"/>
<rect x="187" y="527" width="5" height="30" fill="#9a1220"/>
<rect x="188" y="528" width="3" height="28" fill="#e8132a"/>
<rect x="195" y="470" width="1" height="90" fill="#0a3328"/>
<rect x="193" y="470" width="5" height="85" fill="#0c5441"/>
<rect x="194" y="471" width="3" height="83" fill="#0b8263"/>
<rect x="201" y="439" width="1" height="128" fill="#40101a"/>
<rect x="199" y="472" width="5" height="61" fill="#9a1220"/>
<rect x="200" y="473" width="3" height="59" fill="#e8132a"/>
<rect x="207" y="509" width="1" height="42" fill="#0a3328"/>
<rect x="205" y="531" width="5" height="1" fill="#0a3328"/>
<rect x="213" y="483" width="1" height="75" fill="#40101a"/>
<rect x="211" y="512" width="5" height="36" fill="#9a1220"/>
<rect x="212" y="513" width="3" height="34" fill="#e8132a"/>
<rect x="219" y="494" width="1" height="57" fill="#0a3328"/>
<rect x="217" y="501" width="5" height="43" fill="#0c5441"/>
<rect x="218" y="502" width="3" height="41" fill="#0b8263"/>
<rect x="225" y="479" width="1" height="53" fill="#40101a"/>
<rect x="223" y="499" width="5" height="14" fill="#9a1220"/>
<rect x="224" y="500" width="3" height="12" fill="#e8132a"/>
<rect x="231" y="472" width="1" height="44" fill="#0a3328"/>
<rect x="229" y="483" width="5" height="25" fill="#0c5441"/>
<rect x="230" y="484" width="3" height="23" fill="#0b8263"/>
<rect x="237" y="459" width="1" height="51" fill="#0a3328"/>
<rect x="235" y="461" width="5" height="23" fill="#0c5441"/>
<rect x="236" y="462" width="3" height="21" fill="#0b8263"/>
<rect x="243" y="463" width="1" height="77" fill="#40101a"/>
<rect x="241" y="463" width="5" height="63" fill="#9a1220"/>
<rect x="242" y="464" width="3" height="61" fill="#e8132a"/>
<rect x="249" y="512" width="1" height="40" fill="#40101a"/>
<rect x="247" y="523" width="5" height="16" fill="#9a1220"/>
<rect x="248" y="524" width="3" height="14" fill="#e8132a"/>
<rect x="255" y="496" width="1" height="45" fill="#40101a"/>
<rect x="253" y="534" width="5" height="5" fill="#9a1220"/>
<rect x="254" y="535" width="3" height="3" fill="#e8132a"/>
<rect x="261" y="481" width="1" height="61" fill="#0a3328"/>
<rect x="259" y="494" width="5" height="48" fill="#0c5441"/>
<rect x="260" y="495" width="3" height="46" fill="#0b8263"/>
<rect x="267" y="470" width="1" height="37" fill="#0a3328"/>
<rect x="265" y="485" width="5" height="8" fill="#0c5441"/>
<rect x="266" y="486" width="3" height="6" fill="#0b8263"/>
<rect x="273" y="479" width="1" height="32" fill="#40101a"/>
<rect x="271" y="479" width="5" height="21" fill="#9a1220"/>
<rect x="272" y="480" width="3" height="19" fill="#e8132a"/>
<rect x="279" y="470" width="1" height="50" fill="#0a3328"/>
<rect x="277" y="470" width="5" height="32" fill="#0c5441"/>
<rect x="278" y="471" width="3" height="30" fill="#0b8263"/>
<rect x="285" y="472" width="1" height="42" fill="#40101a"/>
<rect x="283" y="472" width="5" height="30" fill="#9a1220"/>
<rect x="284" y="473" width="3" height="28" fill="#e8132a"/>
<rect x="291" y="470" width="1" height="36" fill="#0a3328"/>
<rect x="289" y="474" width="5" height="32" fill="#0c5441"/>
<rect x="290" y="475" width="3" height="30" fill="#0b8263"/>
<rect x="297" y="373" width="1" height="106" fill="#0a3328"/>
<rect x="295" y="384" width="5" height="87" fill="#0c5441"/>
<rect x="296" y="385" width="3" height="85" fill="#0b8263"/>
<rect x="303" y="297" width="1" height="102" fill="#0a3328"/>
<rect x="301" y="308" width="5" height="74" fill="#0c5441"/>
<rect x="302" y="309" width="3" height="72" fill="#0b8263"/>
<rect x="309" y="275" width="1" height="101" fill="#40101a"/>
<rect x="307" y="304" width="5" height="72" fill="#9a1220"/>
<rect x="308" y="305" width="3" height="70" fill="#e8132a"/>
<rect x="315" y="319" width="1" height="64" fill="#40101a"/>
<rect x="313" y="366" width="5" height="14" fill="#9a1220"/>
<rect x="314" y="367" width="3" height="12" fill="#e8132a"/>
<rect x="321" y="359" width="1" height="46" fill="#0a3328"/>
<rect x="319" y="368" width="5" height="10" fill="#0c5441"/>
<rect x="320" y="369" width="3" height="8" fill="#0b8263"/>
<rect x="327" y="348" width="1" height="89" fill="#40101a"/>
<rect x="325" y="364" width="5" height="63" fill="#9a1220"/>
<rect x="326" y="365" width="3" height="61" fill="#e8132a"/>
<rect x="333" y="408" width="1" height="60" fill="#40101a"/>
<rect x="331" y="421" width="5" height="10" fill="#9a1220"/>
<rect x="332" y="422" width="3" height="8" fill="#e8132a"/>
<rect x="339" y="430" width="1" height="59" fill="#40101a"/>
<rect x="337" y="430" width="5" height="38" fill="#9a1220"/>
<rect x="338" y="431" width="3" height="36" fill="#e8132a"/>
<rect x="345" y="399" width="1" height="80" fill="#0a3328"/>
<rect x="343" y="414" width="5" height="54" fill="#0c5441"/>
<rect x="344" y="415" width="3" height="52" fill="#0b8263"/>
<rect x="351" y="390" width="1" height="36" fill="#0a3328"/>
<rect x="349" y="404" width="5" height="3" fill="#0c5441"/>
<rect x="350" y="405" width="3" height="1" fill="#0b8263"/>
<rect x="357" y="392" width="1" height="20" fill="#40101a"/>
<rect x="355" y="401" width="5" height="6" fill="#9a1220"/>
<rect x="356" y="402" width="3" height="4" fill="#e8132a"/>
<rect x="363" y="359" width="1" height="45" fill="#0a3328"/>
<rect x="361" y="372" width="5" height="32" fill="#0c5441"/>
<rect x="362" y="373" width="3" height="30" fill="#0b8263"/>
<rect x="369" y="353" width="1" height="35" fill="#40101a"/>
<rect x="367" y="364" width="5" height="9" fill="#9a1220"/>
<rect x="368" y="365" width="3" height="7" fill="#e8132a"/>
<rect x="375" y="313" width="1" height="70" fill="#0a3328"/>
<rect x="373" y="317" width="5" height="56" fill="#0c5441"/>
<rect x="374" y="318" width="3" height="54" fill="#0b8263"/>
<rect x="381" y="291" width="1" height="73" fill="#40101a"/>
<rect x="379" y="319" width="5" height="15" fill="#9a1220"/>
<rect x="380" y="320" width="3" height="13" fill="#e8132a"/>
<rect x="387" y="288" width="1" height="43" fill="#0a3328"/>
<rect x="385" y="289" width="5" height="42" fill="#0c5441"/>
<rect x="386" y="290" width="3" height="40" fill="#0b8263"/>
<rect x="393" y="255" width="1" height="61" fill="#40101a"/>
<rect x="391" y="288" width="5" height="28" fill="#9a1220"/>
<rect x="392" y="289" width="3" height="26" fill="#e8132a"/>
<rect x="399" y="298" width="1" height="37" fill="#40101a"/>
<rect x="397" y="309" width="5" height="16" fill="#9a1220"/>
<rect x="398" y="310" width="3" height="14" fill="#e8132a"/>
<rect x="405" y="306" width="1" height="78" fill="#40101a"/>
<rect x="403" y="322" width="5" height="53" fill="#9a1220"/>
<rect x="404" y="323" width="3" height="51" fill="#e8132a"/>
<rect x="411" y="295" width="1" height="88" fill="#0a3328"/>
<rect x="409" y="313" width="5" height="58" fill="#0c5441"/>
<rect x="410" y="314" width="3" height="56" fill="#0b8263"/>
<rect x="417" y="308" width="1" height="53" fill="#40101a"/>
<rect x="415" y="309" width="5" height="43" fill="#9a1220"/>
<rect x="416" y="310" width="3" height="41" fill="#e8132a"/>
<rect x="423" y="341" width="1" height="56" fill="#40101a"/>
<rect x="421" y="350" width="5" height="47" fill="#9a1220"/>
<rect x="422" y="351" width="3" height="45" fill="#e8132a"/>
<rect x="429" y="370" width="1" height="64" fill="#40101a"/>
<rect x="427" y="394" width="5" height="11" fill="#9a1220"/>
<rect x="428" y="395" width="3" height="9" fill="#e8132a"/>
<rect x="435" y="350" width="1" height="67" fill="#0a3328"/>
<rect x="433" y="383" width="5" height="24" fill="#0c5441"/>
<rect x="434" y="384" width="3" height="22" fill="#0b8263"/>
<rect x="441" y="383" width="1" height="113" fill="#40101a"/>
<rect x="439" y="386" width="5" height="65" fill="#9a1220"/>
<rect x="440" y="387" width="3" height="63" fill="#e8132a"/>
<rect x="447" y="379" width="1" height="84" fill="#0a3328"/>
<rect x="445" y="421" width="5" height="37" fill="#0c5441"/>
<rect x="446" y="422" width="3" height="35" fill="#0b8263"/>
<rect x="453" y="366" width="1" height="100" fill="#40101a"/>
<rect x="451" y="414" width="5" height="44" fill="#9a1220"/>
<rect x="452" y="415" width="3" height="42" fill="#e8132a"/>
<rect x="459" y="426" width="1" height="39" fill="#0a3328"/>
<rect x="457" y="436" width="5" height="19" fill="#0c5441"/>
<rect x="458" y="437" width="3" height="17" fill="#0b8263"/>
<rect x="465" y="404" width="1" height="61" fill="#0a3328"/>
<rect x="463" y="425" width="5" height="11" fill="#0c5441"/>
<rect x="464" y="426" width="3" height="9" fill="#0b8263"/>
<rect x="471" y="394" width="1" height="38" fill="#40101a"/>
<rect x="469" y="423" width="5" height="3" fill="#9a1220"/>
<rect x="470" y="424" width="3" height="1" fill="#e8132a"/>
<rect x="477" y="410" width="1" height="35" fill="#40101a"/>
<rect x="475" y="419" width="5" height="17" fill="#9a1220"/>
<rect x="476" y="420" width="3" height="15" fill="#e8132a"/>
<rect x="483" y="423" width="1" height="36" fill="#40101a"/>
<rect x="481" y="432" width="5" height="14" fill="#9a1220"/>
<rect x="482" y="433" width="3" height="12" fill="#e8132a"/>
<rect x="489" y="348" width="1" height="102" fill="#0a3328"/>
<rect x="487" y="355" width="5" height="92" fill="#0c5441"/>
<rect x="488" y="356" width="3" height="90" fill="#0b8263"/>
<rect x="495" y="304" width="1" height="84" fill="#40101a"/>
<rect x="493" y="351" width="5" height="20" fill="#9a1220"/>
<rect x="494" y="352" width="3" height="18" fill="#e8132a"/>
<rect x="501" y="373" width="1" height="33" fill="#40101a"/>
<rect x="499" y="373" width="5" height="31" fill="#9a1220"/>
<rect x="500" y="374" width="3" height="29" fill="#e8132a"/>
<rect x="507" y="355" width="1" height="55" fill="#0a3328"/>
<rect x="505" y="397" width="5" height="5" fill="#0c5441"/>
<rect x="506" y="398" width="3" height="3" fill="#0b8263"/>
<rect x="513" y="384" width="1" height="52" fill="#40101a"/>
<rect x="511" y="395" width="5" height="38" fill="#9a1220"/>
<rect x="512" y="396" width="3" height="36" fill="#e8132a"/>
<rect x="519" y="324" width="1" height="110" fill="#0a3328"/>
<rect x="517" y="350" width="5" height="78" fill="#0c5441"/>
<rect x="518" y="351" width="3" height="76" fill="#0b8263"/>
<rect x="525" y="300" width="1" height="72" fill="#0a3328"/>
<rect x="523" y="309" width="5" height="38" fill="#0c5441"/>
<rect x="524" y="310" width="3" height="36" fill="#0b8263"/>
<rect x="531" y="297" width="1" height="44" fill="#40101a"/>
<rect x="529" y="306" width="5" height="30" fill="#9a1220"/>
<rect x="530" y="307" width="3" height="28" fill="#e8132a"/>
<rect x="537" y="320" width="1" height="46" fill="#40101a"/>
<rect x="535" y="330" width="5" height="17" fill="#9a1220"/>
<rect x="536" y="331" width="3" height="15" fill="#e8132a"/>
<rect x="543" y="295" width="1" height="59" fill="#0a3328"/>
<rect x="541" y="324" width="5" height="25" fill="#0c5441"/>
<rect x="542" y="325" width="3" height="23" fill="#0b8263"/>
<rect x="549" y="311" width="1" height="85" fill="#40101a"/>
<rect x="547" y="320" width="5" height="22" fill="#9a1220"/>
<rect x="548" y="321" width="3" height="20" fill="#e8132a"/>
<rect x="555" y="313" width="1" height="38" fill="#0a3328"/>
<rect x="553" y="317" width="5" height="25" fill="#0c5441"/>
<rect x="554" y="318" width="3" height="23" fill="#0b8263"/>
<rect x="561" y="293" width="1" height="73" fill="#40101a"/>
<rect x="559" y="320" width="5" height="46" fill="#9a1220"/>
<rect x="560" y="321" width="3" height="44" fill="#e8132a"/>
<rect x="567" y="351" width="1" height="64" fill="#40101a"/>
<rect x="565" y="362" width="5" height="12" fill="#9a1220"/>
<rect x="566" y="363" width="3" height="10" fill="#e8132a"/>
<rect x="573" y="342" width="1" height="57" fill="#40101a"/>
<rect x="571" y="370" width="5" height="12" fill="#9a1220"/>
<rect x="572" y="371" width="3" height="10" fill="#e8132a"/>
<rect x="579" y="381" width="1" height="69" fill="#40101a"/>
<rect x="577" y="383" width="5" height="53" fill="#9a1220"/>
<rect x="578" y="384" width="3" height="51" fill="#e8132a"/>
<rect x="585" y="414" width="1" height="31" fill="#0a3328"/>
<rect x="583" y="434" width="5" height="1" fill="#0a3328"/>
<rect x="591" y="399" width="1" height="71" fill="#0a3328"/>
<rect x="589" y="404" width="5" height="29" fill="#0c5441"/>
<rect x="590" y="405" width="3" height="27" fill="#0b8263"/>
<rect x="597" y="397" width="1" height="95" fill="#0a3328"/>
<rect x="595" y="412" width="5" height="1" fill="#0a3328"/>
<rect x="603" y="390" width="1" height="71" fill="#40101a"/>
<rect x="601" y="414" width="5" height="19" fill="#9a1220"/>
<rect x="602" y="415" width="3" height="17" fill="#e8132a"/>
<rect x="609" y="377" width="1" height="61" fill="#0a3328"/>
<rect x="607" y="392" width="5" height="36" fill="#0c5441"/>
<rect x="608" y="393" width="3" height="34" fill="#0b8263"/>
<rect x="615" y="341" width="1" height="118" fill="#0a3328"/>
<rect x="613" y="383" width="5" height="1" fill="#0a3328"/>
<rect x="621" y="333" width="1" height="70" fill="#0a3328"/>
<rect x="619" y="361" width="5" height="19" fill="#0c5441"/>
<rect x="620" y="362" width="3" height="17" fill="#0b8263"/>
<rect x="627" y="309" width="1" height="183" fill="#40101a"/>
<rect x="625" y="355" width="5" height="8" fill="#9a1220"/>
<rect x="626" y="356" width="3" height="6" fill="#e8132a"/>
<rect x="633" y="328" width="1" height="30" fill="#0a3328"/>
<rect x="631" y="351" width="5" height="5" fill="#0c5441"/>
<rect x="632" y="352" width="3" height="3" fill="#0b8263"/>
<rect x="639" y="320" width="1" height="56" fill="#40101a"/>
<rect x="637" y="348" width="5" height="28" fill="#9a1220"/>
<rect x="638" y="349" width="3" height="26" fill="#e8132a"/>
<rect x="645" y="335" width="1" height="51" fill="#0a3328"/>
<rect x="643" y="348" width="5" height="34" fill="#0c5441"/>
<rect x="644" y="349" width="3" height="32" fill="#0b8263"/>
<rect x="651" y="326" width="1" height="47" fill="#0a3328"/>
<rect x="649" y="333" width="5" height="10" fill="#0c5441"/>
<rect x="650" y="334" width="3" height="8" fill="#0b8263"/>
<rect x="657" y="286" width="1" height="51" fill="#0a3328"/>
<rect x="655" y="326" width="5" height="6" fill="#0c5441"/>
<rect x="656" y="327" width="3" height="4" fill="#0b8263"/>
<rect x="663" y="286" width="1" height="75" fill="#0a3328"/>
<rect x="661" y="322" width="5" height="1" fill="#0a3328"/>
<rect x="669" y="304" width="1" height="56" fill="#40101a"/>
<rect x="667" y="319" width="5" height="41" fill="#9a1220"/>
<rect x="668" y="320" width="3" height="39" fill="#e8132a"/>
<rect x="675" y="337" width="1" height="51" fill="#40101a"/>
<rect x="673" y="355" width="5" height="16" fill="#9a1220"/>
<rect x="674" y="356" width="3" height="14" fill="#e8132a"/>
<rect x="681" y="333" width="1" height="55" fill="#0a3328"/>
<rect x="679" y="339" width="5" height="30" fill="#0c5441"/>
<rect x="680" y="340" width="3" height="28" fill="#0b8263"/>
<rect x="687" y="280" width="1" height="88" fill="#0a3328"/>
<rect x="685" y="320" width="5" height="16" fill="#0c5441"/>
<rect x="686" y="321" width="3" height="14" fill="#0b8263"/>
<rect x="693" y="313" width="1" height="37" fill="#40101a"/>
<rect x="691" y="315" width="5" height="25" fill="#9a1220"/>
<rect x="692" y="316" width="3" height="23" fill="#e8132a"/>
<rect x="699" y="317" width="1" height="29" fill="#40101a"/>
<rect x="697" y="333" width="5" height="3" fill="#9a1220"/>
<rect x="698" y="334" width="3" height="1" fill="#e8132a"/>
<rect x="705" y="304" width="1" height="35" fill="#40101a"/>
<rect x="703" y="331" width="5" height="3" fill="#9a1220"/>
<rect x="704" y="332" width="3" height="1" fill="#e8132a"/>
<rect x="711" y="295" width="1" height="58" fill="#0a3328"/>
<rect x="709" y="297" width="5" height="37" fill="#0c5441"/>
<rect x="710" y="298" width="3" height="35" fill="#0b8263"/>
<rect x="717" y="244" width="1" height="67" fill="#0a3328"/>
<rect x="715" y="253" width="5" height="48" fill="#0c5441"/>
<rect x="716" y="254" width="3" height="46" fill="#0b8263"/>
<rect x="723" y="207" width="1" height="48" fill="#0a3328"/>
<rect x="721" y="213" width="5" height="34" fill="#0c5441"/>
<rect x="722" y="214" width="3" height="32" fill="#0b8263"/>
<rect x="729" y="183" width="1" height="50" fill="#0a3328"/>
<rect x="727" y="189" width="5" height="24" fill="#0c5441"/>
<rect x="728" y="190" width="3" height="22" fill="#0b8263"/>
<rect x="735" y="183" width="1" height="46" fill="#40101a"/>
<rect x="733" y="191" width="5" height="4" fill="#9a1220"/>
<rect x="734" y="192" width="3" height="2" fill="#e8132a"/>
<rect x="741" y="98" width="1" height="96" fill="#0a3328"/>
<rect x="739" y="121" width="5" height="71" fill="#0c5441"/>
<rect x="740" y="122" width="3" height="69" fill="#0b8263"/>
<rect x="747" y="116" width="1" height="53" fill="#40101a"/>
<rect x="745" y="116" width="5" height="25" fill="#9a1220"/>
<rect x="746" y="117" width="3" height="23" fill="#e8132a"/>
<rect x="753" y="121" width="1" height="51" fill="#40101a"/>
<rect x="751" y="136" width="5" height="5" fill="#9a1220"/>
<rect x="752" y="137" width="3" height="3" fill="#e8132a"/>
<rect x="759" y="105" width="1" height="111" fill="#40101a"/>
<rect x="757" y="141" width="5" height="27" fill="#9a1220"/>
<rect x="758" y="142" width="3" height="25" fill="#e8132a"/>
<rect x="765" y="136" width="1" height="36" fill="#0a3328"/>
<rect x="763" y="165" width="5" height="1" fill="#0a3328"/>
<rect x="771" y="163" width="1" height="46" fill="#40101a"/>
<rect x="769" y="165" width="5" height="23" fill="#9a1220"/>
<rect x="770" y="166" width="3" height="21" fill="#e8132a"/>
<rect x="777" y="181" width="1" height="32" fill="#40101a"/>
<rect x="775" y="183" width="5" height="23" fill="#9a1220"/>
<rect x="776" y="184" width="3" height="21" fill="#e8132a"/>
<rect x="783" y="200" width="1" height="42" fill="#40101a"/>
<rect x="781" y="203" width="5" height="21" fill="#9a1220"/>
<rect x="782" y="204" width="3" height="19" fill="#e8132a"/>
<rect x="789" y="200" width="1" height="31" fill="#40101a"/>
<rect x="787" y="224" width="5" height="6" fill="#9a1220"/>
<rect x="788" y="225" width="3" height="4" fill="#e8132a"/>
<rect x="795" y="211" width="1" height="29" fill="#0a3328"/>
<rect x="793" y="218" width="5" height="8" fill="#0c5441"/>
<rect x="794" y="219" width="3" height="6" fill="#0b8263"/>
<rect x="801" y="207" width="1" height="28" fill="#0a3328"/>
<rect x="799" y="209" width="5" height="5" fill="#0c5441"/>
<rect x="800" y="210" width="3" height="3" fill="#0b8263"/>
<rect x="807" y="205" width="1" height="55" fill="#40101a"/>
<rect x="805" y="209" width="5" height="36" fill="#9a1220"/>
<rect x="806" y="210" width="3" height="34" fill="#e8132a"/>
<rect x="813" y="213" width="1" height="38" fill="#0a3328"/>
<rect x="811" y="220" width="5" height="19" fill="#0c5441"/>
<rect x="812" y="221" width="3" height="17" fill="#0b8263"/>
<rect x="819" y="209" width="1" height="15" fill="#40101a"/>
<rect x="817" y="214" width="5" height="2" fill="#9a1220"/>
<rect x="825" y="211" width="1" height="31" fill="#40101a"/>
<rect x="823" y="220" width="5" height="19" fill="#9a1220"/>
<rect x="824" y="221" width="3" height="17" fill="#e8132a"/>
<rect x="831" y="205" width="1" height="41" fill="#0a3328"/>
<rect x="829" y="213" width="5" height="24" fill="#0c5441"/>
<rect x="830" y="214" width="3" height="22" fill="#0b8263"/>
<rect x="837" y="185" width="1" height="29" fill="#0a3328"/>
<rect x="835" y="189" width="5" height="23" fill="#0c5441"/>
<rect x="836" y="190" width="3" height="21" fill="#0b8263"/>
<rect x="843" y="172" width="1" height="24" fill="#0a3328"/>
<rect x="841" y="182" width="5" height="4" fill="#0c5441"/>
<rect x="842" y="183" width="3" height="2" fill="#0b8263"/>
<rect x="849" y="165" width="1" height="21" fill="#0a3328"/>
<rect x="847" y="174" width="5" height="5" fill="#0c5441"/>
<rect x="848" y="175" width="3" height="3" fill="#0b8263"/>
<rect x="855" y="167" width="1" height="31" fill="#40101a"/>
<rect x="853" y="176" width="5" height="21" fill="#9a1220"/>
<rect x="854" y="177" width="3" height="19" fill="#e8132a"/>
<rect x="861" y="172" width="1" height="35" fill="#0a3328"/>
<rect x="859" y="194" width="5" height="1" fill="#0a3328"/>
<rect x="867" y="194" width="1" height="20" fill="#40101a"/>
<rect x="865" y="198" width="5" height="5" fill="#9a1220"/>
<rect x="866" y="199" width="3" height="3" fill="#e8132a"/>
<rect x="873" y="151" width="1" height="53" fill="#0a3328"/>
<rect x="871" y="154" width="5" height="50" fill="#0c5441"/>
<rect x="872" y="155" width="3" height="48" fill="#0b8263"/>
<rect x="879" y="144" width="1" height="32" fill="#40101a"/>
<rect x="877" y="149" width="5" height="19" fill="#9a1220"/>
<rect x="878" y="150" width="3" height="17" fill="#e8132a"/>
<rect x="885" y="158" width="1" height="29" fill="#40101a"/>
<rect x="883" y="169" width="5" height="3" fill="#9a1220"/>
<rect x="884" y="170" width="3" height="1" fill="#e8132a"/>
<rect x="891" y="141" width="1" height="35" fill="#0a3328"/>
<rect x="889" y="149" width="5" height="21" fill="#0c5441"/>
<rect x="890" y="150" width="3" height="19" fill="#0b8263"/>
<rect x="897" y="138" width="1" height="22" fill="#0a3328"/>
<rect x="895" y="140" width="5" height="7" fill="#0c5441"/>
<rect x="896" y="141" width="3" height="5" fill="#0b8263"/>
<rect x="903" y="130" width="1" height="19" fill="#0a3328"/>
<rect x="901" y="132" width="5" height="17" fill="#0c5441"/>
<rect x="902" y="133" width="3" height="15" fill="#0b8263"/>
<rect x="909" y="130" width="1" height="27" fill="#40101a"/>
<rect x="907" y="138" width="5" height="8" fill="#9a1220"/>
<rect x="908" y="139" width="3" height="6" fill="#e8132a"/>
<rect x="915" y="130" width="1" height="26" fill="#0a3328"/>
<rect x="913" y="140" width="5" height="7" fill="#0c5441"/>
<rect x="914" y="141" width="3" height="5" fill="#0b8263"/>
<rect x="921" y="138" width="1" height="19" fill="#40101a"/>
<rect x="919" y="144" width="5" height="6" fill="#9a1220"/>
<rect x="920" y="145" width="3" height="4" fill="#e8132a"/>
<rect x="927" y="132" width="1" height="20" fill="#40101a"/>
<rect x="925" y="147" width="5" height="5" fill="#9a1220"/>
<rect x="926" y="148" width="3" height="3" fill="#e8132a"/>
<rect x="933" y="138" width="1" height="20" fill="#0a3328"/>
<rect x="931" y="143" width="5" height="9" fill="#0c5441"/>
<rect x="932" y="144" width="3" height="7" fill="#0b8263"/>
<rect x="939" y="130" width="1" height="26" fill="#40101a"/>
<rect x="937" y="141" width="5" height="15" fill="#9a1220"/>
<rect x="938" y="142" width="3" height="13" fill="#e8132a"/>
<rect x="945" y="151" width="1" height="14" fill="#40101a"/>
<rect x="943" y="154" width="5" height="8" fill="#9a1220"/>
<rect x="944" y="155" width="3" height="6" fill="#e8132a"/>
<rect x="951" y="161" width="1" height="19" fill="#0a3328"/>
<rect x="949" y="161" width="5" height="5" fill="#0c5441"/>
<rect x="950" y="162" width="3" height="3" fill="#0b8263"/>
<rect x="957" y="158" width="1" height="10" fill="#40101a"/>
<rect x="955" y="160" width="5" height="4" fill="#9a1220"/>
<rect x="956" y="161" width="3" height="2" fill="#e8132a"/>
<rect x="963" y="140" width="1" height="28" fill="#0a3328"/>
<rect x="961" y="152" width="5" height="14" fill="#0c5441"/>
<rect x="962" y="153" width="3" height="12" fill="#0b8263"/>
<rect x="969" y="138" width="1" height="18" fill="#0a3328"/>
<rect x="967" y="152" width="5" height="3" fill="#0c5441"/>
<rect x="968" y="153" width="3" height="1" fill="#0b8263"/>
<rect x="975" y="134" width="1" height="12" fill="#0a3328"/>
<rect x="973" y="136" width="5" height="10" fill="#0c5441"/>
<rect x="974" y="137" width="3" height="8" fill="#0b8263"/>
<rect x="981" y="134" width="1" height="20" fill="#40101a"/>
<rect x="979" y="134" width="5" height="7" fill="#9a1220"/>
<rect x="980" y="135" width="3" height="5" fill="#e8132a"/>
<rect x="987" y="136" width="1" height="34" fill="#40101a"/>
<rect x="985" y="141" width="5" height="29" fill="#9a1220"/>
<rect x="986" y="142" width="3" height="27" fill="#e8132a"/>
<rect x="993" y="170" width="1" height="44" fill="#40101a"/>
<rect x="991" y="171" width="5" height="43" fill="#9a1220"/>
<rect x="992" y="172" width="3" height="41" fill="#e8132a"/>
<rect x="999" y="200" width="1" height="9" fill="#40101a"/>
<rect x="997" y="200" width="5" height="9" fill="#9a1220"/>
<rect x="998" y="201" width="3" height="7" fill="#e8132a"/>
<rect x="1005" y="200" width="1" height="9" fill="#40101a"/>
<rect x="1003" y="200" width="5" height="9" fill="#9a1220"/>
<rect x="1004" y="201" width="3" height="7" fill="#e8132a"/>
<rect x="1011" y="207" width="1" height="1" fill="#0a3328"/>
<rect x="1009" y="207" width="5" height="1" fill="#0a3328"/>
<rect x="1017" y="196" width="1" height="5" fill="#40101a"/>
<rect x="1015" y="196" width="5" height="5" fill="#9a1220"/>
<rect x="1016" y="197" width="3" height="3" fill="#e8132a"/>
<rect x="1023" y="167" width="1" height="29" fill="#0a3328"/>
<rect x="1021" y="167" width="5" height="29" fill="#0c5441"/>
<rect x="1022" y="168" width="3" height="27" fill="#0b8263"/>
<rect x="1029" y="163" width="1" height="1" fill="#0a3328"/>
<rect x="1027" y="163" width="5" height="1" fill="#0a3328"/>
<rect x="1035" y="167" width="1" height="1" fill="#0a3328"/>
<rect x="1033" y="167" width="5" height="1" fill="#0a3328"/>
<rect x="1041" y="147" width="1" height="6" fill="#0a3328"/>
<rect x="1039" y="149" width="5" height="4" fill="#0c5441"/>
<rect x="1040" y="150" width="3" height="2" fill="#0b8263"/>
<rect x="1047" y="158" width="1" height="1" fill="#0a3328"/>
<rect x="1045" y="158" width="5" height="1" fill="#0a3328"/>
<rect x="1053" y="163" width="1" height="4" fill="#40101a"/>
<rect x="1051" y="163" width="5" height="4" fill="#9a1220"/>
<rect x="1052" y="164" width="3" height="2" fill="#e8132a"/>
<rect x="1059" y="147" width="1" height="15" fill="#0a3328"/>
<rect x="1057" y="147" width="5" height="15" fill="#0c5441"/>
<rect x="1058" y="148" width="3" height="13" fill="#0b8263"/>
<rect x="1065" y="141" width="1" height="1" fill="#0a3328"/>
<rect x="1063" y="141" width="5" height="1" fill="#0a3328"/>
<rect x="1071" y="127" width="1" height="40" fill="#40101a"/>
<rect x="1069" y="127" width="5" height="3" fill="#9a1220"/>
<rect x="1070" y="128" width="3" height="1" fill="#e8132a"/>
<rect x="1077" y="138" width="1" height="26" fill="#40101a"/>
<rect x="1075" y="138" width="5" height="26" fill="#9a1220"/>
<rect x="1076" y="139" width="3" height="24" fill="#e8132a"/>
<rect x="1083" y="165" width="1" height="1" fill="#0a3328"/>
<rect x="1081" y="165" width="5" height="1" fill="#0a3328"/>
<rect x="1089" y="151" width="1" height="80" fill="#0a3328"/>
<rect x="1087" y="165" width="5" height="23" fill="#0c5441"/>
<rect x="1088" y="166" width="3" height="21" fill="#0b8263"/>
<rect x="1095" y="152" width="1" height="33" fill="#0a3328"/>
<rect x="1093" y="169" width="5" height="1" fill="#0a3328"/>
<rect x="1101" y="141" width="1" height="48" fill="#0a3328"/>
<rect x="1099" y="156" width="5" height="17" fill="#0c5441"/>
<rect x="1100" y="157" width="3" height="15" fill="#0b8263"/>
<rect x="1107" y="141" width="1" height="23" fill="#0a3328"/>
<rect x="1105" y="154" width="5" height="1" fill="#0a3328"/>
<rect x="1113" y="123" width="1" height="49" fill="#40101a"/>
<rect x="1111" y="143" width="5" height="13" fill="#9a1220"/>
<rect x="1112" y="144" width="3" height="11" fill="#e8132a"/>
<rect x="1119" y="170" width="1" height="32" fill="#40101a"/>
<rect x="1117" y="170" width="5" height="20" fill="#9a1220"/>
<rect x="1118" y="171" width="3" height="18" fill="#e8132a"/>
<rect x="1125" y="178" width="1" height="25" fill="#40101a"/>
<rect x="1123" y="187" width="5" height="16" fill="#9a1220"/>
<rect x="1124" y="188" width="3" height="14" fill="#e8132a"/>
<rect x="1131" y="194" width="1" height="22" fill="#40101a"/>
<rect x="1129" y="198" width="5" height="5" fill="#9a1220"/>
<rect x="1130" y="199" width="3" height="3" fill="#e8132a"/>
<rect x="1137" y="129" width="1" height="76" fill="#0a3328"/>
<rect x="1135" y="132" width="5" height="69" fill="#0c5441"/>
<rect x="1136" y="133" width="3" height="67" fill="#0b8263"/>
<rect x="1143" y="129" width="1" height="43" fill="#40101a"/>
<rect x="1141" y="134" width="5" height="38" fill="#9a1220"/>
<rect x="1142" y="135" width="3" height="36" fill="#e8132a"/>
<rect x="1149" y="152" width="1" height="24" fill="#0a3328"/>
<rect x="1147" y="162" width="5" height="2" fill="#0c5441"/>
<rect x="1155" y="172" width="1" height="33" fill="#40101a"/>
<rect x="1153" y="172" width="5" height="22" fill="#9a1220"/>
<rect x="1154" y="173" width="3" height="20" fill="#e8132a"/>
<rect x="1161" y="167" width="1" height="27" fill="#0a3328"/>
<rect x="1159" y="183" width="5" height="3" fill="#0c5441"/>
<rect x="1160" y="184" width="3" height="1" fill="#0b8263"/>
<rect x="1167" y="147" width="1" height="39" fill="#0a3328"/>
<rect x="1165" y="147" width="5" height="31" fill="#0c5441"/>
<rect x="1166" y="148" width="3" height="29" fill="#0b8263"/>
<rect x="1173" y="141" width="1" height="30" fill="#0a3328"/>
<rect x="1171" y="147" width="5" height="1" fill="#0a3328"/>
<rect x="1179" y="118" width="1" height="33" fill="#0a3328"/>
<rect x="1177" y="118" width="5" height="28" fill="#0c5441"/>
<rect x="1178" y="119" width="3" height="26" fill="#0b8263"/>
<rect x="1185" y="112" width="1" height="26" fill="#40101a"/>
<rect x="1183" y="119" width="5" height="19" fill="#9a1220"/>
<rect x="1184" y="120" width="3" height="17" fill="#e8132a"/>
<rect x="1191" y="94" width="1" height="41" fill="#0a3328"/>
<rect x="1189" y="110" width="5" height="25" fill="#0c5441"/>
<rect x="1190" y="111" width="3" height="23" fill="#0b8263"/>
<rect x="1197" y="103" width="1" height="60" fill="#40101a"/>
<rect x="1195" y="114" width="5" height="41" fill="#9a1220"/>
<rect x="1196" y="115" width="3" height="39" fill="#e8132a"/>
<rect x="1203" y="151" width="1" height="25" fill="#40101a"/>
<rect x="1201" y="151" width="5" height="22" fill="#9a1220"/>
<rect x="1202" y="152" width="3" height="20" fill="#e8132a"/>
<rect x="1209" y="134" width="1" height="75" fill="#40101a"/>
<rect x="1207" y="171" width="5" height="10" fill="#9a1220"/>
<rect x="1208" y="172" width="3" height="8" fill="#e8132a"/>
<rect x="1215" y="116" width="1" height="73" fill="#0a3328"/>
<rect x="1213" y="123" width="5" height="53" fill="#0c5441"/>
<rect x="1214" y="124" width="3" height="51" fill="#0b8263"/>
<rect x="1221" y="94" width="1" height="40" fill="#0a3328"/>
<rect x="1219" y="99" width="5" height="21" fill="#0c5441"/>
<rect x="1220" y="100" width="3" height="19" fill="#0b8263"/>
<rect x="1227" y="88" width="1" height="33" fill="#0a3328"/>
<rect x="1225" y="88" width="5" height="9" fill="#0c5441"/>
<rect x="1226" y="89" width="3" height="7" fill="#0b8263"/>
<rect x="1233" y="88" width="1" height="41" fill="#40101a"/>
<rect x="1231" y="88" width="5" height="18" fill="#9a1220"/>
<rect x="1232" y="89" width="3" height="16" fill="#e8132a"/>
<rect x="1239" y="88" width="1" height="36" fill="#40101a"/>
<rect x="1237" y="103" width="5" height="21" fill="#9a1220"/>
<rect x="1238" y="104" width="3" height="19" fill="#e8132a"/>
<rect x="1245" y="83" width="1" height="33" fill="#0a3328"/>
<rect x="1243" y="103" width="5" height="6" fill="#0c5441"/>
<rect x="1244" y="104" width="3" height="4" fill="#0b8263"/>
<rect x="1251" y="107" width="1" height="11" fill="#40101a"/>
<rect x="1249" y="110" width="5" height="7" fill="#9a1220"/>
<rect x="1250" y="111" width="3" height="5" fill="#e8132a"/>
<rect x="1257" y="101" width="1" height="33" fill="#0a3328"/>
<rect x="1255" y="101" width="5" height="12" fill="#0c5441"/>
<rect x="1256" y="102" width="3" height="10" fill="#0b8263"/>
<rect x="1263" y="90" width="1" height="38" fill="#40101a"/>
<rect x="1261" y="96" width="5" height="32" fill="#9a1220"/>
<rect x="1262" y="97" width="3" height="30" fill="#e8132a"/>
<rect x="1269" y="105" width="1" height="25" fill="#40101a"/>
<rect x="1267" y="123" width="5" height="3" fill="#9a1220"/>
<rect x="1268" y="124" width="3" height="1" fill="#e8132a"/>
<rect x="1275" y="120" width="1" height="47" fill="#40101a"/>
<rect x="1273" y="121" width="5" height="43" fill="#9a1220"/>
<rect x="1274" y="122" width="3" height="41" fill="#e8132a"/>
<rect x="1281" y="114" width="1" height="54" fill="#0a3328"/>
<rect x="1279" y="132" width="5" height="36" fill="#0c5441"/>
<rect x="1280" y="133" width="3" height="34" fill="#0b8263"/>
<rect x="1287" y="134" width="1" height="40" fill="#40101a"/>
<rect x="1285" y="136" width="5" height="30" fill="#9a1220"/>
<rect x="1286" y="137" width="3" height="28" fill="#e8132a"/>
<rect x="1293" y="143" width="1" height="18" fill="#0a3328"/>
<rect x="1291" y="143" width="5" height="18" fill="#0c5441"/>
<rect x="1292" y="144" width="3" height="16" fill="#0b8263"/>
<rect x="1299" y="125" width="1" height="42" fill="#0a3328"/>
<rect x="1297" y="138" width="5" height="14" fill="#0c5441"/>
<rect x="1298" y="139" width="3" height="12" fill="#0b8263"/>
<rect x="1305" y="134" width="1" height="35" fill="#40101a"/>
<rect x="1303" y="136" width="5" height="25" fill="#9a1220"/>
<rect x="1304" y="137" width="3" height="23" fill="#e8132a"/>
<rect x="1311" y="119" width="1" height="45" fill="#40101a"/>
<rect x="1309" y="158" width="5" height="6" fill="#9a1220"/>
<rect x="1310" y="159" width="3" height="4" fill="#e8132a"/>
<rect x="1317" y="132" width="1" height="21" fill="#0a3328"/>
<rect x="1315" y="147" width="5" height="6" fill="#0c5441"/>
<rect x="1316" y="148" width="3" height="4" fill="#0b8263"/>
<rect x="1323" y="137" width="1" height="30" fill="#40101a"/>
<rect x="1321" y="138" width="5" height="23" fill="#9a1220"/>
<rect x="1322" y="139" width="3" height="21" fill="#e8132a"/>
<rect x="1329" y="154" width="1" height="37" fill="#40101a"/>
<rect x="1327" y="154" width="5" height="27" fill="#9a1220"/>
<rect x="1328" y="155" width="3" height="25" fill="#e8132a"/>
<rect x="1335" y="178" width="1" height="29" fill="#0a3328"/>
<rect x="1333" y="178" width="5" height="8" fill="#0c5441"/>
<rect x="1334" y="179" width="3" height="6" fill="#0b8263"/>
<rect x="1341" y="112" width="1" height="84" fill="#0a3328"/>
<rect x="1339" y="134" width="5" height="56" fill="#0c5441"/>
<rect x="1340" y="135" width="3" height="54" fill="#0b8263"/>
<rect x="1347" y="127" width="1" height="13" fill="#40101a"/>
<rect x="1345" y="132" width="5" height="3" fill="#9a1220"/>
<rect x="1346" y="133" width="3" height="1" fill="#e8132a"/>
<rect x="1353" y="121" width="1" height="31" fill="#40101a"/>
<rect x="1351" y="123" width="5" height="19" fill="#9a1220"/>
<rect x="1352" y="124" width="3" height="17" fill="#e8132a"/>
<rect x="1359" y="134" width="1" height="18" fill="#40101a"/>
<rect x="1357" y="143" width="5" height="4" fill="#9a1220"/>
<rect x="1358" y="144" width="3" height="2" fill="#e8132a"/>
<rect x="1365" y="116" width="1" height="37" fill="#0a3328"/>
<rect x="1363" y="138" width="5" height="15" fill="#0c5441"/>
<rect x="1364" y="139" width="3" height="13" fill="#0b8263"/>
<rect x="1371" y="123" width="1" height="20" fill="#40101a"/>
<rect x="1369" y="138" width="5" height="5" fill="#9a1220"/>
<rect x="1370" y="139" width="3" height="3" fill="#e8132a"/>
<rect x="1377" y="134" width="1" height="24" fill="#40101a"/>
<rect x="1375" y="141" width="5" height="11" fill="#9a1220"/>
<rect x="1376" y="142" width="3" height="9" fill="#e8132a"/>
<rect x="1383" y="145" width="1" height="20" fill="#0a3328"/>
<rect x="1381" y="148" width="5" height="2" fill="#0c5441"/>
<rect x="1389" y="140" width="1" height="13" fill="#0a3328"/>
<rect x="1387" y="143" width="5" height="10" fill="#0c5441"/>
<rect x="1388" y="144" width="3" height="8" fill="#0b8263"/>
<rect x="1449" y="0" width="1" height="838" fill="#e0e0e0"/>
</svg>

<!-- TradingView logo -->
<svg class="a" style="left:6px;top:804px" width="170" height="28" viewBox="0 0 170 28">
  <g stroke="#fff" stroke-width="3" stroke-linejoin="round" paint-order="stroke" fill="#000">
    <path d="M4 5 H18 V19 H11 V11 H4 Z"/>
    <circle cx="21.5" cy="7.5" r="2.6"/>
    <path d="M26 5 H34.5 L27.5 19 H19 Z"/>
    <text x="41.3" y="19.2" font-family="Liberation Sans, Arial, sans-serif" font-weight="bold" font-size="20" textLength="120" lengthAdjust="spacingAndGlyphs">TradingView</text>
  </g>
</svg>

<!-- header -->
<div class="a" style="left:7px;top:6px;width:18px;height:18px;border-radius:50%;background:#000;">
  <svg width="18" height="18" viewBox="0 0 18 18" style="position:absolute;left:0;top:0"><path d="M9 3.2 C9 3.2 5.6 7.6 5.6 10.2 C5.6 12.2 7.1 13.7 9 13.7 C10.9 13.7 12.4 12.2 12.4 10.2 C12.4 7.6 9 3.2 9 3.2 Z" fill="#fff"/></svg>
</div>
<div class="a" id="title">CFDs Dầu thô Brent · 3 · TVC</div>
<div class="a" id="pill"><div class="l"></div><div class="r"></div><div class="dot"></div><div class="apx">≈</div></div>
<div class="a" id="ohlc">O<span class="v">98.12</span>&nbsp; H<span class="v">98.19</span>&nbsp; L<span class="v">98.11</span>&nbsp; C<span class="v">98.17</span>&nbsp; <span class="v">+0.03 (+0.03%)</span></div>

<div class="box" id="sell"><div class="p">98.17</div><div class="s">BÁN</div></div>
<div class="a" id="spread">0.02</div>
<div class="box" id="buy"><div class="p">98.19</div><div class="s">MUA</div></div>

<div class="a" id="vol">Khối lượng<span class="v">25</span></div>
<div class="a" id="coll"><svg width="27" height="19" viewBox="0 0 27 19" style="position:absolute;left:0;top:0"><path d="M9.8 11.6 L13.7 7.8 L17.8 11.6" fill="none" stroke="#000" stroke-width="1.4"/></svg></div>

<!-- price axis labels -->
<div class="pl" style="top:21.4px"><span>98.80</span></div>
<div class="pl" style="top:57.9px"><span>98.60</span></div>
<div class="pl" style="top:94.5px"><span>98.40</span></div>
<div class="pl" style="top:131.0px"><span>98.20</span></div>
<div class="pl" style="top:167.6px"><span>98.00</span></div>
<div class="pl" style="top:204.1px"><span>97.80</span></div>
<div class="pl" style="top:240.7px"><span>97.60</span></div>
<div class="pl" style="top:277.2px"><span>97.40</span></div>
<div class="pl" style="top:313.8px"><span>97.20</span></div>
<div class="pl" style="top:350.3px"><span>97.00</span></div>
<div class="pl" style="top:386.8px"><span>96.80</span></div>
<div class="pl" style="top:423.4px"><span>96.60</span></div>
<div class="pl" style="top:459.9px"><span>96.40</span></div>
<div class="pl" style="top:496.5px"><span>96.20</span></div>
<div class="pl" style="top:533.0px"><span>96.00</span></div>
<div class="pl" style="top:569.6px"><span>95.80</span></div>
<div class="pl" style="top:606.1px"><span>95.60</span></div>
<div class="pl" style="top:642.6px"><span>95.40</span></div>
<div class="pl" style="top:679.2px"><span>95.20</span></div>
<div class="pl" style="top:715.7px"><span>95.00</span></div>
<div class="pl" style="top:752.3px"><span>94.80</span></div>
<div class="pl" style="top:788.8px"><span>94.60</span></div>
<div class="pl" style="top:825.4px"><span>94.40</span></div>
<div class="a" id="ptag"><div style="margin-top:2px">98.17</div><div class="t2">01:53</div></div>

<!-- time axis -->
<div id="tclip">
<div class="tl" style="left:3.5px"><span>20:00</span></div>
<div class="tl" style="left:63.5px"><span>20:30</span></div>
<div class="tl" style="left:123.5px"><span>21:00</span></div>
<div class="tl" style="left:183.5px"><span>21:30</span></div>
<div class="tl" style="left:243.5px"><span>22:00</span></div>
<div class="tl" style="left:303.5px"><span>22:30</span></div>
<div class="tl" style="left:363.5px"><span>23:00</span></div>
<div class="tl" style="left:423.5px"><span>23:30</span></div>
<div class="tl b" style="left:483.5px"><span>26</span></div>
<div class="tl" style="left:543.5px"><span>00:30</span></div>
<div class="tl" style="left:603.5px"><span>01:00</span></div>
<div class="tl" style="left:663.5px"><span>01:30</span></div>
<div class="tl" style="left:723.5px"><span>02:00</span></div>
<div class="tl" style="left:783.5px"><span>02:30</span></div>
<div class="tl" style="left:843.5px"><span>03:00</span></div>
<div class="tl" style="left:903.5px"><span>03:30</span></div>
<div class="tl" style="left:963.5px"><span>04:00</span></div>
<div class="tl" style="left:1059.5px"><span>07:00</span></div>
<div class="tl" style="left:1119.5px"><span>07:30</span></div>
<div class="tl" style="left:1179.5px"><span>08:00</span></div>
<div class="tl" style="left:1239.5px"><span>08:30</span></div>
<div class="tl" style="left:1299.5px"><span>09:00</span></div>
<div class="tl" style="left:1359.5px"><span>09:30</span></div>
<div class="tl" style="left:1419.5px"><span>10:00</span></div>
</div>
<svg class="a" style="left:1469.9px;top:845px" width="17" height="15" viewBox="0 0 17 15"><path d="M2 7.55 L5.3 1.8 H11.9 L15.2 7.55 L11.9 13.3 H5.3 Z" fill="none" stroke="#000" stroke-width="1.2"/><circle cx="8.6" cy="7.55" r="2.1" fill="none" stroke="#000" stroke-width="1.2"/></svg>

<div class="a" id="vtag">25</div>

<!-- overlay quote box -->
<div class="a" id="ov">
  <svg class="a" style="left:13px;top:48px" width="23" height="24" viewBox="0 0 23 24"><path d="M11.5 0 L23 12 H17 V23 H6 V12 H0 Z" fill="#1ba137"/></svg>
  <div class="a" id="last" style="left:42px;top:43.8px;font-size:32px;line-height:32px;font-weight:bold;color:#2b2b2b;"><span class="cond" style="transform:scaleX(0.85)">98.42</span></div>
  <div class="a" id="chg" style="left:127px;top:51px;font-size:24px;line-height:24px;font-weight:bold;color:#1e9a22;"><span class="cond" style="transform:scaleX(0.865)">+1.16</span></div>
  <div class="a" id="chgp" style="left:196px;top:51px;font-size:24px;line-height:24px;font-weight:bold;color:#1e9a22;"><span class="cond" style="transform:scaleX(0.886)">(+1.19%)</span></div>
  <svg class="a" style="left:46px;top:91px" width="17" height="19" viewBox="0 0 17 19"><ellipse cx="8.4" cy="9.3" rx="6.5" ry="7.4" fill="none" stroke="#0f7d12" stroke-width="2"/><path d="M10.4 4.9 L8.2 8.5 L10.4 11.3" fill="none" stroke="#111" stroke-width="1.5"/></svg>
  <div class="a" id="ts" style="left:70px;top:94px;font-size:14px;line-height:16px;color:#767676;"><span class="cond" id="tsi" style="transform:scaleX(0.85)">09:33:59 - Dữ Liệu CFD theo Thời Gian Thực. Tiền tệ tính theo USD</span></div>
  <div class="a" style="left:10px;top:142px;width:480px;height:2px;background:#d4d4d4;"></div>
  <div class="a" style="left:181px;top:154px;width:1px;height:18px;background:#d8d8d8;"></div>
  <div class="a" style="left:313px;top:154px;width:1px;height:18px;background:#d8d8d8;"></div>
  <div class="a" id="r1" style="left:10px;top:154px;font-size:16px;line-height:18px;color:#7f7f7f;"><span class="cond" style="transform:scaleX(0.8)">Giá đ.cửa hôm trước: <b style="color:#1f1f1f">97.26</b></span></div>
  <div class="a" id="r2" style="left:193px;top:154px;font-size:16px;line-height:18px;color:#7f7f7f;"><span class="cond" style="transform:scaleX(0.8)">Giá mở cửa: <b style="color:#1f1f1f">97.98</b></span></div>
  <div class="a" id="r3" style="left:325px;top:154px;font-size:16px;line-height:18px;color:#7f7f7f;"><span class="cond" style="transform:scaleX(0.8)">Biên độ ngày: <b style="color:#1f1f1f">97.73 - 98.49</b></span></div>
</div>
<div class="a" id="shr"></div>
<div class="a" id="shb"></div>
</body></html>
